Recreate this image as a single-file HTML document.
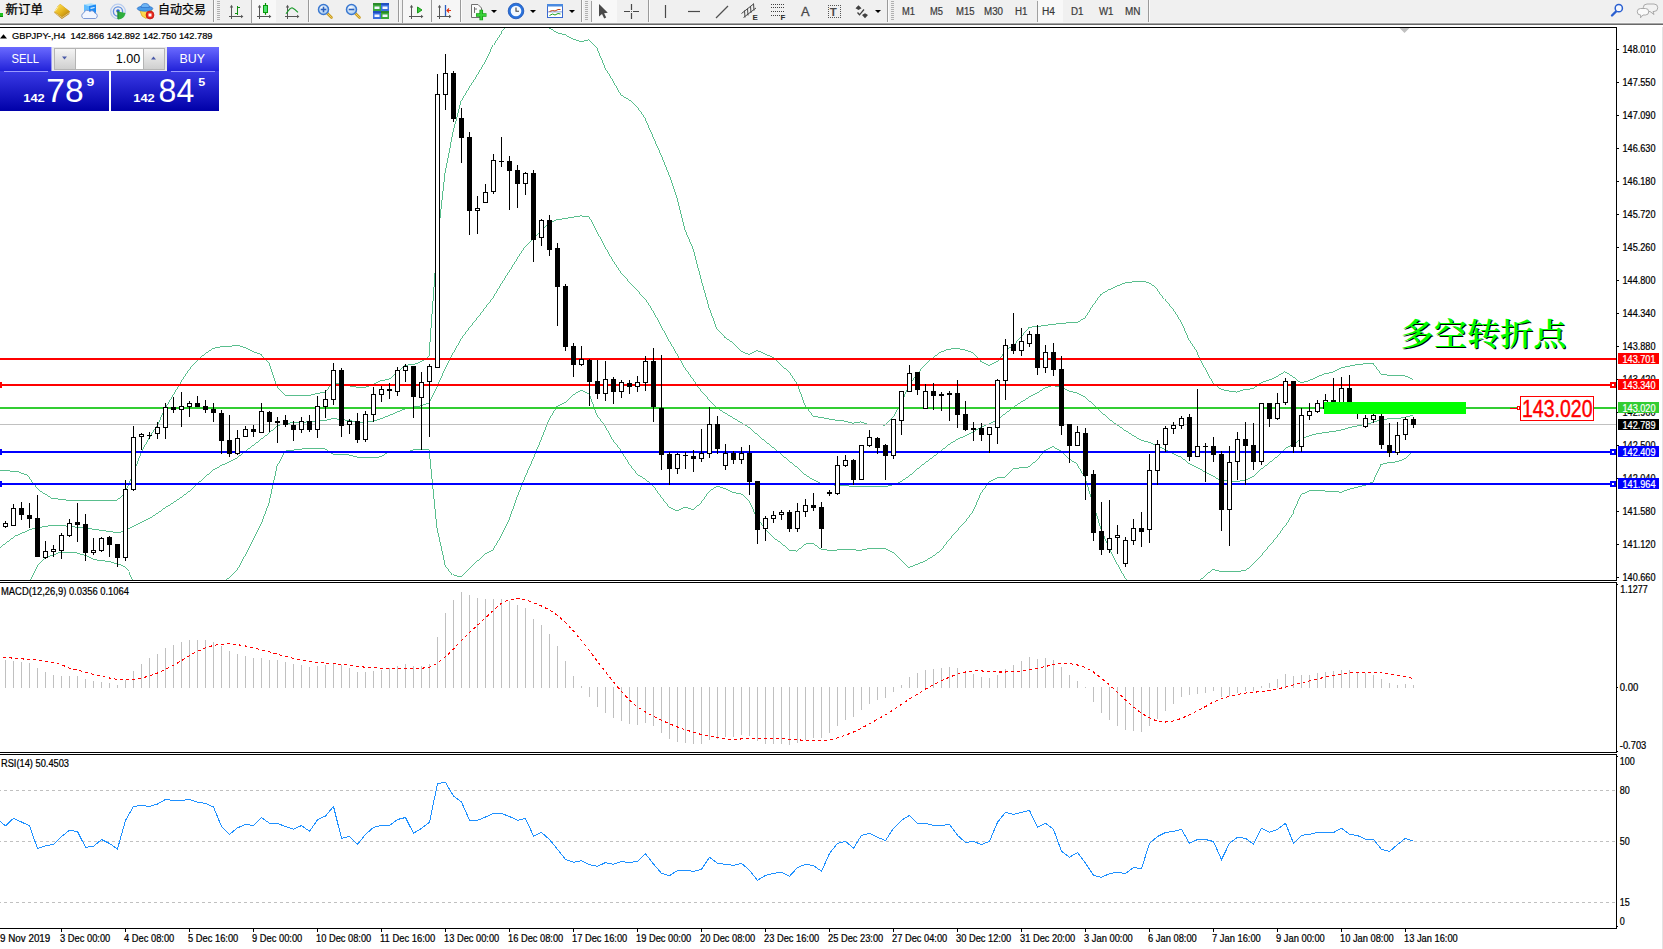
<!DOCTYPE html>
<html lang="zh"><head><meta charset="utf-8"><title>GBPJPY-,H4</title>
<style>
html,body{margin:0;padding:0;background:#fff;overflow:hidden}
svg{display:block;font-family:"Liberation Sans",sans-serif}
text{white-space:pre}
</style></head><body>
<svg width="1663" height="949" viewBox="0 0 1663 949">
<rect x="0" y="25" width="1663" height="924" fill="#fff"/>
<defs><clipPath id="cm"><rect x="0" y="28" width="1616" height="552"/></clipPath><clipPath id="c2"><rect x="0" y="583" width="1616" height="169"/></clipPath><clipPath id="c3"><rect x="0" y="755" width="1616" height="173"/></clipPath></defs>
<g clip-path="url(#cm)">
<polyline points="0.0,470.3 17.7,471.6 27.8,475.4 32.9,483.0 40.5,491.8 50.6,498.1 65.8,500.0 88.6,500.7 116.4,500.7 124.0,494.4 131.6,478.0 141.7,451.3 152.0,433.0 157.0,426.1 165.0,408.9 173.0,395.2 181.0,382.0 189.0,369.7 197.0,360.7 205.0,353.7 213.0,348.5 221.0,346.9 229.0,346.4 237.0,345.3 245.0,347.5 253.0,351.7 261.0,354.4 269.0,363.3 277.0,386.4 285.0,395.3 293.0,395.5 301.0,395.3 309.0,395.5 317.0,393.6 325.0,392.2 333.0,382.8 341.0,384.2 349.0,385.9 357.0,387.1 365.0,387.5 373.0,384.6 381.0,380.7 389.0,379.3 397.0,372.4 405.0,365.3 413.0,364.6 421.0,361.8 429.0,356.4 437.0,244.8 445.0,173.4 453.0,132.0 461.0,101.4 469.0,88.0 477.0,75.4 485.0,62.1 493.0,45.2 501.0,32.5 509.0,23.6 517.0,20.6 525.0,16.9 533.0,19.3 541.0,21.8 549.0,27.7 557.0,32.8 565.0,34.7 573.0,38.9 581.0,41.7 589.0,39.7 597.0,48.1 605.0,67.9 613.0,81.0 621.0,95.1 629.0,99.6 637.0,106.6 645.0,118.4 653.0,136.7 661.0,155.0 669.0,174.6 677.0,197.7 685.0,229.8 693.0,248.7 701.0,279.0 709.0,307.6 717.0,329.3 725.0,337.5 733.0,343.0 741.0,351.3 749.0,354.4 757.0,350.4 765.0,353.9 773.0,357.5 781.0,365.0 789.0,372.0 797.0,383.7 805.0,405.2 813.0,416.2 821.0,417.5 829.0,419.0 837.0,420.4 845.0,421.1 853.0,423.2 861.0,421.9 869.0,424.8 877.0,424.7 885.0,425.1 893.0,417.2 901.0,403.7 909.0,385.0 917.0,374.1 925.0,364.7 933.0,357.7 941.0,351.9 949.0,349.1 957.0,348.6 965.0,349.9 973.0,352.6 981.0,361.5 989.0,365.7 997.0,361.6 1005.0,350.5 1013.0,346.0 1021.0,336.9 1029.0,327.4 1037.0,326.4 1045.0,325.5 1053.0,324.3 1061.0,323.6 1069.0,322.7 1077.0,322.5 1085.0,318.0 1093.0,305.3 1101.0,294.4 1109.0,289.7 1117.0,286.2 1125.0,282.9 1133.0,281.8 1141.0,281.0 1149.0,282.7 1157.0,288.5 1165.0,299.3 1173.0,309.4 1181.0,321.6 1189.0,340.0 1197.0,351.5 1205.0,368.3 1213.0,383.2 1221.0,389.3 1229.0,391.1 1237.0,392.1 1245.0,389.3 1253.0,388.8 1261.0,382.7 1269.0,380.2 1277.0,376.5 1285.0,371.7 1293.0,376.8 1301.0,383.0 1309.0,380.7 1317.0,377.0 1325.0,373.8 1333.0,372.2 1341.0,367.9 1349.0,366.1 1357.0,364.6 1365.0,363.8 1373.0,363.3 1381.0,374.2 1389.0,375.3 1397.0,375.4 1405.0,375.9 1413.0,379.3" fill="none" stroke="#2fae70" stroke-width="0.8" shape-rendering="crispEdges" />
<polyline points="0.0,547.5 15.2,536.1 32.9,528.5 50.6,525.5 65.8,526.0 88.6,528.5 106.3,531.0 118.9,532.8 129.0,528.5 141.7,522.2 152.0,517.0 157.0,513.5 165.0,507.8 173.0,502.9 181.0,497.4 189.0,491.6 197.0,484.1 205.0,477.1 213.0,470.2 221.0,465.6 229.0,462.1 237.0,457.8 245.0,451.6 253.0,445.6 261.0,439.3 269.0,433.1 277.0,426.4 285.0,423.2 293.0,422.9 301.0,422.2 309.0,421.9 317.0,420.9 325.0,420.5 333.0,418.5 341.0,419.5 349.0,420.4 357.0,422.1 365.0,422.2 373.0,421.3 381.0,418.7 389.0,415.6 397.0,412.1 405.0,409.0 413.0,407.2 421.0,405.8 429.0,403.0 437.0,386.6 445.0,368.9 453.0,353.4 461.0,339.2 469.0,328.3 477.0,318.4 485.0,308.1 493.0,297.6 501.0,284.3 509.0,271.8 517.0,259.0 525.0,246.9 533.0,239.2 541.0,230.8 549.0,223.8 557.0,219.6 565.0,218.7 573.0,217.1 581.0,215.9 589.0,216.7 597.0,231.7 605.0,247.0 613.0,260.6 621.0,272.9 629.0,281.6 637.0,290.4 645.0,298.8 653.0,311.1 661.0,325.9 669.0,340.8 677.0,354.2 685.0,368.4 693.0,379.3 701.0,390.9 709.0,399.6 717.0,407.8 725.0,413.1 733.0,417.8 741.0,422.5 749.0,427.5 757.0,434.3 765.0,441.2 773.0,447.4 781.0,453.9 789.0,461.0 797.0,467.4 805.0,474.6 813.0,479.7 821.0,483.4 829.0,484.6 837.0,485.2 845.0,485.4 853.0,486.5 861.0,486.1 869.0,486.8 877.0,486.7 885.0,486.9 893.0,484.8 901.0,481.7 909.0,476.2 917.0,469.2 925.0,462.9 933.0,456.9 941.0,451.1 949.0,444.4 957.0,439.6 965.0,435.9 973.0,432.0 981.0,427.3 989.0,423.9 997.0,419.7 1005.0,413.9 1013.0,407.5 1021.0,402.3 1029.0,397.1 1037.0,393.1 1045.0,387.9 1053.0,385.5 1061.0,387.2 1069.0,390.9 1077.0,393.0 1085.0,397.2 1093.0,404.1 1101.0,411.8 1109.0,418.9 1117.0,424.9 1125.0,430.4 1133.0,435.4 1141.0,440.2 1149.0,442.4 1157.0,445.6 1165.0,449.7 1173.0,453.4 1181.0,457.2 1189.0,463.4 1197.0,467.3 1205.0,472.0 1213.0,476.2 1221.0,480.4 1229.0,481.2 1237.0,481.6 1245.0,480.1 1253.0,476.6 1261.0,469.2 1269.0,463.2 1277.0,456.6 1285.0,448.7 1293.0,444.6 1301.0,438.8 1309.0,435.9 1317.0,433.8 1325.0,432.4 1333.0,431.6 1341.0,430.1 1349.0,427.7 1357.0,425.9 1365.0,424.6 1373.0,422.6 1381.0,419.3 1389.0,418.9 1397.0,418.6 1405.0,417.3 1413.0,415.4" fill="none" stroke="#2fae70" stroke-width="0.8" shape-rendering="crispEdges" />
<polyline points="26.0,590.0 30.4,580.0 38.0,565.2 45.5,557.1 58.2,553.0 73.4,552.0 83.5,555.0 93.6,559.6 108.8,561.4 121.5,565.2 129.0,571.5 132.8,580.0 141.0,600.0 152.0,601.0 157.0,601.0 165.0,606.6 173.0,610.5 181.0,612.8 189.0,613.5 197.0,607.5 205.0,600.4 213.0,592.0 221.0,584.2 229.0,577.8 237.0,570.2 245.0,555.6 253.0,539.6 261.0,524.2 269.0,503.0 277.0,466.4 285.0,451.1 293.0,450.2 301.0,449.1 309.0,448.4 317.0,448.2 325.0,448.8 333.0,454.2 341.0,454.8 349.0,454.9 357.0,457.0 365.0,457.0 373.0,458.0 381.0,456.7 389.0,451.8 397.0,451.9 405.0,452.7 413.0,449.9 421.0,449.8 429.0,449.6 437.0,528.3 445.0,564.5 453.0,574.8 461.0,577.1 469.0,568.6 477.0,561.4 485.0,554.0 493.0,549.9 501.0,536.1 509.0,520.0 517.0,497.4 525.0,477.0 533.0,459.2 541.0,439.8 549.0,419.8 557.0,406.4 565.0,402.6 573.0,395.2 581.0,390.1 589.0,393.7 597.0,415.3 605.0,426.1 613.0,440.3 621.0,450.6 629.0,463.7 637.0,474.1 645.0,479.2 653.0,485.6 661.0,496.7 669.0,506.9 677.0,510.8 685.0,506.9 693.0,509.9 701.0,502.9 709.0,491.7 717.0,486.2 725.0,488.6 733.0,492.6 741.0,493.7 749.0,500.6 757.0,518.2 765.0,528.6 773.0,537.3 781.0,542.8 789.0,550.0 797.0,551.2 805.0,544.1 813.0,543.2 821.0,549.3 829.0,550.3 837.0,550.0 845.0,549.8 853.0,549.8 861.0,550.3 869.0,548.7 877.0,548.7 885.0,548.6 893.0,552.4 901.0,559.7 909.0,567.5 917.0,564.4 925.0,561.1 933.0,556.2 941.0,550.4 949.0,539.8 957.0,530.7 965.0,521.9 973.0,511.4 981.0,493.1 989.0,482.2 997.0,477.8 1005.0,477.4 1013.0,469.0 1021.0,467.7 1029.0,466.9 1037.0,459.9 1045.0,450.4 1053.0,446.7 1061.0,450.9 1069.0,459.1 1077.0,463.5 1085.0,476.5 1093.0,502.9 1101.0,529.2 1109.0,548.2 1117.0,563.7 1125.0,578.0 1133.0,588.9 1141.0,599.4 1149.0,602.0 1157.0,602.6 1165.0,600.1 1173.0,597.4 1181.0,592.9 1189.0,586.8 1197.0,583.1 1205.0,575.7 1213.0,569.3 1221.0,571.6 1229.0,571.4 1237.0,571.1 1245.0,570.9 1253.0,564.3 1261.0,555.7 1269.0,546.3 1277.0,536.8 1285.0,525.7 1293.0,512.5 1301.0,494.6 1309.0,491.0 1317.0,490.6 1325.0,491.0 1333.0,491.0 1341.0,492.3 1349.0,489.3 1357.0,487.3 1365.0,485.3 1373.0,481.8 1381.0,464.4 1389.0,462.4 1397.0,461.9 1405.0,458.7 1413.0,451.6" fill="none" stroke="#2fae70" stroke-width="0.8" shape-rendering="crispEdges" />
</g>
<rect x="0" y="424" width="1616" height="1" fill="#c0c0c0" shape-rendering="crispEdges"/>
<rect x="0" y="407" width="1616" height="2" fill="#32cd32" shape-rendering="crispEdges"/>
<rect x="0" y="358" width="1616" height="2" fill="#ff0000" shape-rendering="crispEdges"/>
<rect x="0" y="384" width="1616" height="2" fill="#ff0000" shape-rendering="crispEdges"/>
<rect x="0" y="451" width="1616" height="2" fill="#0000ff" shape-rendering="crispEdges"/>
<rect x="0" y="483" width="1616" height="2" fill="#0000ff" shape-rendering="crispEdges"/>
<rect x="0" y="382" width="2" height="6" fill="#ff0000" shape-rendering="crispEdges"/>
<rect x="1610" y="382" width="6" height="6" fill="#ff0000" shape-rendering="crispEdges"/>
<rect x="1612" y="384" width="2" height="2" fill="#fff" shape-rendering="crispEdges"/>
<rect x="0" y="449" width="2" height="6" fill="#0000ff" shape-rendering="crispEdges"/>
<rect x="1610" y="449" width="6" height="6" fill="#0000ff" shape-rendering="crispEdges"/>
<rect x="1612" y="451" width="2" height="2" fill="#fff" shape-rendering="crispEdges"/>
<rect x="0" y="481" width="2" height="6" fill="#0000ff" shape-rendering="crispEdges"/>
<rect x="1610" y="481" width="6" height="6" fill="#0000ff" shape-rendering="crispEdges"/>
<rect x="1612" y="483" width="2" height="2" fill="#fff" shape-rendering="crispEdges"/>
<g shape-rendering="crispEdges">
<rect x="5" y="521" width="1" height="7" fill="#000"/>
<rect x="3" y="523" width="5" height="4" fill="#000"/>
<rect x="4" y="524" width="3" height="2" fill="#fff"/>
<rect x="13" y="504" width="1" height="22" fill="#000"/>
<rect x="11" y="508" width="5" height="18" fill="#000"/>
<rect x="12" y="509" width="3" height="16" fill="#fff"/>
<rect x="21" y="502" width="1" height="18" fill="#000"/>
<rect x="19" y="508" width="5" height="7" fill="#000"/>
<rect x="29" y="503" width="1" height="25" fill="#000"/>
<rect x="27" y="515" width="5" height="4" fill="#000"/>
<rect x="37" y="495" width="1" height="62" fill="#000"/>
<rect x="35" y="518" width="5" height="39" fill="#000"/>
<rect x="45" y="541" width="1" height="18" fill="#000"/>
<rect x="43" y="551" width="5" height="7" fill="#000"/>
<rect x="44" y="552" width="3" height="5" fill="#fff"/>
<rect x="53" y="545" width="1" height="12" fill="#000"/>
<rect x="51" y="549" width="5" height="3" fill="#000"/>
<rect x="52" y="550" width="3" height="1" fill="#fff"/>
<rect x="61" y="533" width="1" height="26" fill="#000"/>
<rect x="59" y="535" width="5" height="16" fill="#000"/>
<rect x="60" y="536" width="3" height="14" fill="#fff"/>
<rect x="69" y="519" width="1" height="18" fill="#000"/>
<rect x="67" y="523" width="5" height="13" fill="#000"/>
<rect x="68" y="524" width="3" height="11" fill="#fff"/>
<rect x="77" y="503" width="1" height="39" fill="#000"/>
<rect x="75" y="522" width="5" height="3" fill="#000"/>
<rect x="85" y="514" width="1" height="47" fill="#000"/>
<rect x="83" y="524" width="5" height="29" fill="#000"/>
<rect x="93" y="538" width="1" height="17" fill="#000"/>
<rect x="91" y="550" width="5" height="3" fill="#000"/>
<rect x="92" y="551" width="3" height="1" fill="#fff"/>
<rect x="101" y="537" width="1" height="15" fill="#000"/>
<rect x="99" y="538" width="5" height="13" fill="#000"/>
<rect x="100" y="539" width="3" height="11" fill="#fff"/>
<rect x="109" y="536" width="1" height="21" fill="#000"/>
<rect x="107" y="537" width="5" height="8" fill="#000"/>
<rect x="117" y="544" width="1" height="23" fill="#000"/>
<rect x="115" y="544" width="5" height="14" fill="#000"/>
<rect x="125" y="480" width="1" height="81" fill="#000"/>
<rect x="123" y="489" width="5" height="69" fill="#000"/>
<rect x="124" y="490" width="3" height="67" fill="#fff"/>
<rect x="133" y="426" width="1" height="65" fill="#000"/>
<rect x="131" y="437" width="5" height="53" fill="#000"/>
<rect x="132" y="438" width="3" height="51" fill="#fff"/>
<rect x="141" y="433" width="1" height="17" fill="#000"/>
<rect x="139" y="434" width="5" height="3" fill="#000"/>
<rect x="140" y="435" width="3" height="1" fill="#fff"/>
<rect x="149" y="432" width="1" height="7" fill="#000"/>
<rect x="147" y="435" width="5" height="1" fill="#000"/>
<rect x="157" y="422" width="1" height="17" fill="#000"/>
<rect x="155" y="427" width="5" height="7" fill="#000"/>
<rect x="156" y="428" width="3" height="5" fill="#fff"/>
<rect x="165" y="403" width="1" height="36" fill="#000"/>
<rect x="163" y="407" width="5" height="21" fill="#000"/>
<rect x="164" y="408" width="3" height="19" fill="#fff"/>
<rect x="173" y="397" width="1" height="16" fill="#000"/>
<rect x="171" y="407" width="5" height="3" fill="#000"/>
<rect x="181" y="392" width="1" height="35" fill="#000"/>
<rect x="179" y="406" width="5" height="4" fill="#000"/>
<rect x="180" y="407" width="3" height="2" fill="#fff"/>
<rect x="189" y="401" width="1" height="16" fill="#000"/>
<rect x="187" y="403" width="5" height="4" fill="#000"/>
<rect x="188" y="404" width="3" height="2" fill="#fff"/>
<rect x="197" y="396" width="1" height="11" fill="#000"/>
<rect x="195" y="403" width="5" height="4" fill="#000"/>
<rect x="205" y="400" width="1" height="13" fill="#000"/>
<rect x="203" y="406" width="5" height="4" fill="#000"/>
<rect x="213" y="403" width="1" height="19" fill="#000"/>
<rect x="211" y="409" width="5" height="4" fill="#000"/>
<rect x="221" y="410" width="1" height="44" fill="#000"/>
<rect x="219" y="413" width="5" height="28" fill="#000"/>
<rect x="229" y="415" width="1" height="42" fill="#000"/>
<rect x="227" y="440" width="5" height="14" fill="#000"/>
<rect x="237" y="430" width="1" height="25" fill="#000"/>
<rect x="235" y="438" width="5" height="16" fill="#000"/>
<rect x="236" y="439" width="3" height="14" fill="#fff"/>
<rect x="245" y="426" width="1" height="11" fill="#000"/>
<rect x="243" y="429" width="5" height="8" fill="#000"/>
<rect x="244" y="430" width="3" height="6" fill="#fff"/>
<rect x="253" y="425" width="1" height="12" fill="#000"/>
<rect x="251" y="429" width="5" height="3" fill="#000"/>
<rect x="261" y="403" width="1" height="30" fill="#000"/>
<rect x="259" y="411" width="5" height="22" fill="#000"/>
<rect x="260" y="412" width="3" height="20" fill="#fff"/>
<rect x="269" y="411" width="1" height="21" fill="#000"/>
<rect x="267" y="412" width="5" height="10" fill="#000"/>
<rect x="277" y="417" width="1" height="26" fill="#000"/>
<rect x="275" y="421" width="5" height="2" fill="#000"/>
<rect x="285" y="415" width="1" height="12" fill="#000"/>
<rect x="283" y="420" width="5" height="5" fill="#000"/>
<rect x="293" y="421" width="1" height="20" fill="#000"/>
<rect x="291" y="425" width="5" height="5" fill="#000"/>
<rect x="301" y="417" width="1" height="16" fill="#000"/>
<rect x="299" y="421" width="5" height="9" fill="#000"/>
<rect x="300" y="422" width="3" height="7" fill="#fff"/>
<rect x="309" y="415" width="1" height="17" fill="#000"/>
<rect x="307" y="421" width="5" height="9" fill="#000"/>
<rect x="317" y="396" width="1" height="42" fill="#000"/>
<rect x="315" y="406" width="5" height="24" fill="#000"/>
<rect x="316" y="407" width="3" height="22" fill="#fff"/>
<rect x="325" y="390" width="1" height="28" fill="#000"/>
<rect x="323" y="399" width="5" height="8" fill="#000"/>
<rect x="324" y="400" width="3" height="6" fill="#fff"/>
<rect x="333" y="363" width="1" height="42" fill="#000"/>
<rect x="331" y="370" width="5" height="30" fill="#000"/>
<rect x="332" y="371" width="3" height="28" fill="#fff"/>
<rect x="341" y="368" width="1" height="69" fill="#000"/>
<rect x="339" y="370" width="5" height="56" fill="#000"/>
<rect x="349" y="419" width="1" height="15" fill="#000"/>
<rect x="347" y="421" width="5" height="4" fill="#000"/>
<rect x="348" y="422" width="3" height="2" fill="#fff"/>
<rect x="357" y="413" width="1" height="30" fill="#000"/>
<rect x="355" y="421" width="5" height="19" fill="#000"/>
<rect x="365" y="411" width="1" height="31" fill="#000"/>
<rect x="363" y="414" width="5" height="26" fill="#000"/>
<rect x="364" y="415" width="3" height="24" fill="#fff"/>
<rect x="373" y="387" width="1" height="35" fill="#000"/>
<rect x="371" y="394" width="5" height="21" fill="#000"/>
<rect x="372" y="395" width="3" height="19" fill="#fff"/>
<rect x="381" y="386" width="1" height="16" fill="#000"/>
<rect x="379" y="389" width="5" height="6" fill="#000"/>
<rect x="380" y="390" width="3" height="4" fill="#fff"/>
<rect x="389" y="383" width="1" height="16" fill="#000"/>
<rect x="387" y="389" width="5" height="2" fill="#000"/>
<rect x="397" y="367" width="1" height="29" fill="#000"/>
<rect x="395" y="370" width="5" height="22" fill="#000"/>
<rect x="396" y="371" width="3" height="20" fill="#fff"/>
<rect x="405" y="364" width="1" height="18" fill="#000"/>
<rect x="403" y="366" width="5" height="5" fill="#000"/>
<rect x="404" y="367" width="3" height="3" fill="#fff"/>
<rect x="413" y="366" width="1" height="52" fill="#000"/>
<rect x="411" y="366" width="5" height="31" fill="#000"/>
<rect x="421" y="372" width="1" height="78" fill="#000"/>
<rect x="419" y="382" width="5" height="16" fill="#000"/>
<rect x="420" y="383" width="3" height="14" fill="#fff"/>
<rect x="429" y="364" width="1" height="73" fill="#000"/>
<rect x="427" y="366" width="5" height="16" fill="#000"/>
<rect x="428" y="367" width="3" height="14" fill="#fff"/>
<rect x="437" y="74" width="1" height="294" fill="#000"/>
<rect x="435" y="94" width="5" height="274" fill="#000"/>
<rect x="436" y="95" width="3" height="272" fill="#fff"/>
<rect x="445" y="54" width="1" height="56" fill="#000"/>
<rect x="443" y="73" width="5" height="22" fill="#000"/>
<rect x="444" y="74" width="3" height="20" fill="#fff"/>
<rect x="453" y="71" width="1" height="51" fill="#000"/>
<rect x="451" y="73" width="5" height="46" fill="#000"/>
<rect x="461" y="108" width="1" height="55" fill="#000"/>
<rect x="459" y="118" width="5" height="20" fill="#000"/>
<rect x="469" y="132" width="1" height="103" fill="#000"/>
<rect x="467" y="137" width="5" height="74" fill="#000"/>
<rect x="477" y="196" width="1" height="38" fill="#000"/>
<rect x="475" y="208" width="5" height="3" fill="#000"/>
<rect x="476" y="209" width="3" height="1" fill="#fff"/>
<rect x="485" y="184" width="1" height="19" fill="#000"/>
<rect x="483" y="192" width="5" height="11" fill="#000"/>
<rect x="484" y="193" width="3" height="9" fill="#fff"/>
<rect x="493" y="154" width="1" height="40" fill="#000"/>
<rect x="491" y="160" width="5" height="32" fill="#000"/>
<rect x="492" y="161" width="3" height="30" fill="#fff"/>
<rect x="501" y="137" width="1" height="30" fill="#000"/>
<rect x="499" y="161" width="5" height="1" fill="#000"/>
<rect x="509" y="156" width="1" height="54" fill="#000"/>
<rect x="507" y="161" width="5" height="10" fill="#000"/>
<rect x="517" y="165" width="1" height="43" fill="#000"/>
<rect x="515" y="170" width="5" height="14" fill="#000"/>
<rect x="525" y="172" width="1" height="23" fill="#000"/>
<rect x="523" y="173" width="5" height="11" fill="#000"/>
<rect x="524" y="174" width="3" height="9" fill="#fff"/>
<rect x="533" y="170" width="1" height="92" fill="#000"/>
<rect x="531" y="173" width="5" height="67" fill="#000"/>
<rect x="541" y="219" width="1" height="27" fill="#000"/>
<rect x="539" y="220" width="5" height="18" fill="#000"/>
<rect x="540" y="221" width="3" height="16" fill="#fff"/>
<rect x="549" y="215" width="1" height="41" fill="#000"/>
<rect x="547" y="220" width="5" height="30" fill="#000"/>
<rect x="557" y="243" width="1" height="83" fill="#000"/>
<rect x="555" y="248" width="5" height="39" fill="#000"/>
<rect x="565" y="284" width="1" height="67" fill="#000"/>
<rect x="563" y="286" width="5" height="61" fill="#000"/>
<rect x="573" y="343" width="1" height="34" fill="#000"/>
<rect x="571" y="346" width="5" height="19" fill="#000"/>
<rect x="581" y="346" width="1" height="20" fill="#000"/>
<rect x="579" y="359" width="5" height="6" fill="#000"/>
<rect x="580" y="360" width="3" height="4" fill="#fff"/>
<rect x="589" y="359" width="1" height="47" fill="#000"/>
<rect x="587" y="360" width="5" height="22" fill="#000"/>
<rect x="597" y="360" width="1" height="39" fill="#000"/>
<rect x="595" y="381" width="5" height="13" fill="#000"/>
<rect x="605" y="361" width="1" height="40" fill="#000"/>
<rect x="603" y="379" width="5" height="15" fill="#000"/>
<rect x="604" y="380" width="3" height="13" fill="#fff"/>
<rect x="613" y="377" width="1" height="27" fill="#000"/>
<rect x="611" y="379" width="5" height="13" fill="#000"/>
<rect x="621" y="380" width="1" height="18" fill="#000"/>
<rect x="619" y="382" width="5" height="10" fill="#000"/>
<rect x="620" y="383" width="3" height="8" fill="#fff"/>
<rect x="629" y="380" width="1" height="14" fill="#000"/>
<rect x="627" y="383" width="5" height="4" fill="#000"/>
<rect x="637" y="376" width="1" height="16" fill="#000"/>
<rect x="635" y="382" width="5" height="5" fill="#000"/>
<rect x="636" y="383" width="3" height="3" fill="#fff"/>
<rect x="645" y="356" width="1" height="35" fill="#000"/>
<rect x="643" y="361" width="5" height="22" fill="#000"/>
<rect x="644" y="362" width="3" height="20" fill="#fff"/>
<rect x="653" y="348" width="1" height="74" fill="#000"/>
<rect x="651" y="361" width="5" height="46" fill="#000"/>
<rect x="661" y="355" width="1" height="115" fill="#000"/>
<rect x="659" y="408" width="5" height="47" fill="#000"/>
<rect x="669" y="452" width="1" height="33" fill="#000"/>
<rect x="667" y="454" width="5" height="15" fill="#000"/>
<rect x="677" y="453" width="1" height="21" fill="#000"/>
<rect x="675" y="454" width="5" height="15" fill="#000"/>
<rect x="676" y="455" width="3" height="13" fill="#fff"/>
<rect x="685" y="452" width="1" height="17" fill="#000"/>
<rect x="683" y="455" width="5" height="1" fill="#000"/>
<rect x="693" y="450" width="1" height="22" fill="#000"/>
<rect x="691" y="456" width="5" height="3" fill="#000"/>
<rect x="701" y="429" width="1" height="33" fill="#000"/>
<rect x="699" y="453" width="5" height="6" fill="#000"/>
<rect x="700" y="454" width="3" height="4" fill="#fff"/>
<rect x="709" y="407" width="1" height="51" fill="#000"/>
<rect x="707" y="424" width="5" height="30" fill="#000"/>
<rect x="708" y="425" width="3" height="28" fill="#fff"/>
<rect x="717" y="416" width="1" height="38" fill="#000"/>
<rect x="715" y="424" width="5" height="25" fill="#000"/>
<rect x="725" y="444" width="1" height="26" fill="#000"/>
<rect x="723" y="453" width="5" height="13" fill="#000"/>
<rect x="724" y="454" width="3" height="11" fill="#fff"/>
<rect x="733" y="451" width="1" height="13" fill="#000"/>
<rect x="731" y="453" width="5" height="7" fill="#000"/>
<rect x="741" y="447" width="1" height="17" fill="#000"/>
<rect x="739" y="453" width="5" height="7" fill="#000"/>
<rect x="740" y="454" width="3" height="5" fill="#fff"/>
<rect x="749" y="445" width="1" height="50" fill="#000"/>
<rect x="747" y="453" width="5" height="29" fill="#000"/>
<rect x="757" y="481" width="1" height="63" fill="#000"/>
<rect x="755" y="481" width="5" height="49" fill="#000"/>
<rect x="765" y="516" width="1" height="25" fill="#000"/>
<rect x="763" y="518" width="5" height="11" fill="#000"/>
<rect x="764" y="519" width="3" height="9" fill="#fff"/>
<rect x="773" y="511" width="1" height="12" fill="#000"/>
<rect x="771" y="515" width="5" height="4" fill="#000"/>
<rect x="772" y="516" width="3" height="2" fill="#fff"/>
<rect x="781" y="510" width="1" height="10" fill="#000"/>
<rect x="779" y="512" width="5" height="3" fill="#000"/>
<rect x="780" y="513" width="3" height="1" fill="#fff"/>
<rect x="789" y="510" width="1" height="22" fill="#000"/>
<rect x="787" y="512" width="5" height="17" fill="#000"/>
<rect x="797" y="503" width="1" height="29" fill="#000"/>
<rect x="795" y="511" width="5" height="18" fill="#000"/>
<rect x="796" y="512" width="3" height="16" fill="#fff"/>
<rect x="805" y="499" width="1" height="18" fill="#000"/>
<rect x="803" y="505" width="5" height="7" fill="#000"/>
<rect x="804" y="506" width="3" height="5" fill="#fff"/>
<rect x="813" y="493" width="1" height="18" fill="#000"/>
<rect x="811" y="505" width="5" height="3" fill="#000"/>
<rect x="821" y="502" width="1" height="46" fill="#000"/>
<rect x="819" y="507" width="5" height="22" fill="#000"/>
<rect x="829" y="490" width="1" height="6" fill="#000"/>
<rect x="827" y="492" width="5" height="2" fill="#000"/>
<rect x="837" y="456" width="1" height="39" fill="#000"/>
<rect x="835" y="465" width="5" height="29" fill="#000"/>
<rect x="836" y="466" width="3" height="27" fill="#fff"/>
<rect x="845" y="455" width="1" height="12" fill="#000"/>
<rect x="843" y="460" width="5" height="6" fill="#000"/>
<rect x="844" y="461" width="3" height="4" fill="#fff"/>
<rect x="853" y="459" width="1" height="26" fill="#000"/>
<rect x="851" y="460" width="5" height="20" fill="#000"/>
<rect x="861" y="445" width="1" height="35" fill="#000"/>
<rect x="859" y="445" width="5" height="35" fill="#000"/>
<rect x="860" y="446" width="3" height="33" fill="#fff"/>
<rect x="869" y="430" width="1" height="17" fill="#000"/>
<rect x="867" y="437" width="5" height="9" fill="#000"/>
<rect x="868" y="438" width="3" height="7" fill="#fff"/>
<rect x="877" y="437" width="1" height="17" fill="#000"/>
<rect x="875" y="438" width="5" height="10" fill="#000"/>
<rect x="885" y="444" width="1" height="36" fill="#000"/>
<rect x="883" y="445" width="5" height="11" fill="#000"/>
<rect x="893" y="419" width="1" height="40" fill="#000"/>
<rect x="891" y="419" width="5" height="37" fill="#000"/>
<rect x="892" y="420" width="3" height="35" fill="#fff"/>
<rect x="901" y="391" width="1" height="44" fill="#000"/>
<rect x="899" y="391" width="5" height="30" fill="#000"/>
<rect x="900" y="392" width="3" height="28" fill="#fff"/>
<rect x="909" y="365" width="1" height="27" fill="#000"/>
<rect x="907" y="373" width="5" height="19" fill="#000"/>
<rect x="908" y="374" width="3" height="17" fill="#fff"/>
<rect x="917" y="372" width="1" height="23" fill="#000"/>
<rect x="915" y="372" width="5" height="18" fill="#000"/>
<rect x="925" y="384" width="1" height="25" fill="#000"/>
<rect x="923" y="391" width="5" height="18" fill="#000"/>
<rect x="924" y="392" width="3" height="16" fill="#fff"/>
<rect x="933" y="383" width="1" height="27" fill="#000"/>
<rect x="931" y="391" width="5" height="5" fill="#000"/>
<rect x="941" y="392" width="1" height="19" fill="#000"/>
<rect x="939" y="394" width="5" height="2" fill="#000"/>
<rect x="949" y="391" width="1" height="30" fill="#000"/>
<rect x="947" y="393" width="5" height="2" fill="#000"/>
<rect x="957" y="380" width="1" height="48" fill="#000"/>
<rect x="955" y="393" width="5" height="22" fill="#000"/>
<rect x="965" y="401" width="1" height="30" fill="#000"/>
<rect x="963" y="414" width="5" height="16" fill="#000"/>
<rect x="973" y="422" width="1" height="19" fill="#000"/>
<rect x="971" y="428" width="5" height="2" fill="#000"/>
<rect x="981" y="423" width="1" height="18" fill="#000"/>
<rect x="979" y="428" width="5" height="7" fill="#000"/>
<rect x="989" y="427" width="1" height="26" fill="#000"/>
<rect x="987" y="427" width="5" height="8" fill="#000"/>
<rect x="988" y="428" width="3" height="6" fill="#fff"/>
<rect x="997" y="379" width="1" height="65" fill="#000"/>
<rect x="995" y="380" width="5" height="48" fill="#000"/>
<rect x="996" y="381" width="3" height="46" fill="#fff"/>
<rect x="1005" y="339" width="1" height="61" fill="#000"/>
<rect x="1003" y="345" width="5" height="36" fill="#000"/>
<rect x="1004" y="346" width="3" height="34" fill="#fff"/>
<rect x="1013" y="313" width="1" height="41" fill="#000"/>
<rect x="1011" y="344" width="5" height="7" fill="#000"/>
<rect x="1021" y="328" width="1" height="28" fill="#000"/>
<rect x="1019" y="341" width="5" height="10" fill="#000"/>
<rect x="1020" y="342" width="3" height="8" fill="#fff"/>
<rect x="1029" y="331" width="1" height="16" fill="#000"/>
<rect x="1027" y="334" width="5" height="10" fill="#000"/>
<rect x="1028" y="335" width="3" height="8" fill="#fff"/>
<rect x="1037" y="325" width="1" height="50" fill="#000"/>
<rect x="1035" y="334" width="5" height="34" fill="#000"/>
<rect x="1045" y="345" width="1" height="28" fill="#000"/>
<rect x="1043" y="352" width="5" height="16" fill="#000"/>
<rect x="1044" y="353" width="3" height="14" fill="#fff"/>
<rect x="1053" y="343" width="1" height="33" fill="#000"/>
<rect x="1051" y="352" width="5" height="18" fill="#000"/>
<rect x="1061" y="356" width="1" height="79" fill="#000"/>
<rect x="1059" y="369" width="5" height="57" fill="#000"/>
<rect x="1069" y="424" width="1" height="39" fill="#000"/>
<rect x="1067" y="424" width="5" height="22" fill="#000"/>
<rect x="1077" y="426" width="1" height="20" fill="#000"/>
<rect x="1075" y="432" width="5" height="14" fill="#000"/>
<rect x="1076" y="433" width="3" height="12" fill="#fff"/>
<rect x="1085" y="428" width="1" height="72" fill="#000"/>
<rect x="1083" y="433" width="5" height="43" fill="#000"/>
<rect x="1093" y="470" width="1" height="71" fill="#000"/>
<rect x="1091" y="474" width="5" height="59" fill="#000"/>
<rect x="1101" y="502" width="1" height="53" fill="#000"/>
<rect x="1099" y="531" width="5" height="19" fill="#000"/>
<rect x="1109" y="500" width="1" height="53" fill="#000"/>
<rect x="1107" y="538" width="5" height="12" fill="#000"/>
<rect x="1108" y="539" width="3" height="10" fill="#fff"/>
<rect x="1117" y="525" width="1" height="29" fill="#000"/>
<rect x="1115" y="535" width="5" height="3" fill="#000"/>
<rect x="1116" y="536" width="3" height="1" fill="#fff"/>
<rect x="1125" y="537" width="1" height="30" fill="#000"/>
<rect x="1123" y="540" width="5" height="24" fill="#000"/>
<rect x="1124" y="541" width="3" height="22" fill="#fff"/>
<rect x="1133" y="519" width="1" height="26" fill="#000"/>
<rect x="1131" y="528" width="5" height="13" fill="#000"/>
<rect x="1132" y="529" width="3" height="11" fill="#fff"/>
<rect x="1141" y="512" width="1" height="35" fill="#000"/>
<rect x="1139" y="528" width="5" height="4" fill="#000"/>
<rect x="1149" y="454" width="1" height="89" fill="#000"/>
<rect x="1147" y="470" width="5" height="60" fill="#000"/>
<rect x="1148" y="471" width="3" height="58" fill="#fff"/>
<rect x="1157" y="440" width="1" height="45" fill="#000"/>
<rect x="1155" y="444" width="5" height="27" fill="#000"/>
<rect x="1156" y="445" width="3" height="25" fill="#fff"/>
<rect x="1165" y="426" width="1" height="26" fill="#000"/>
<rect x="1163" y="428" width="5" height="17" fill="#000"/>
<rect x="1164" y="429" width="3" height="15" fill="#fff"/>
<rect x="1173" y="422" width="1" height="12" fill="#000"/>
<rect x="1171" y="425" width="5" height="4" fill="#000"/>
<rect x="1172" y="426" width="3" height="2" fill="#fff"/>
<rect x="1181" y="416" width="1" height="13" fill="#000"/>
<rect x="1179" y="418" width="5" height="8" fill="#000"/>
<rect x="1180" y="419" width="3" height="6" fill="#fff"/>
<rect x="1189" y="414" width="1" height="47" fill="#000"/>
<rect x="1187" y="417" width="5" height="40" fill="#000"/>
<rect x="1197" y="389" width="1" height="68" fill="#000"/>
<rect x="1195" y="446" width="5" height="11" fill="#000"/>
<rect x="1196" y="447" width="3" height="9" fill="#fff"/>
<rect x="1205" y="443" width="1" height="39" fill="#000"/>
<rect x="1203" y="446" width="5" height="1" fill="#000"/>
<rect x="1213" y="437" width="1" height="25" fill="#000"/>
<rect x="1211" y="446" width="5" height="9" fill="#000"/>
<rect x="1221" y="451" width="1" height="80" fill="#000"/>
<rect x="1219" y="454" width="5" height="56" fill="#000"/>
<rect x="1229" y="446" width="1" height="100" fill="#000"/>
<rect x="1227" y="462" width="5" height="48" fill="#000"/>
<rect x="1228" y="463" width="3" height="46" fill="#fff"/>
<rect x="1237" y="432" width="1" height="48" fill="#000"/>
<rect x="1235" y="439" width="5" height="23" fill="#000"/>
<rect x="1236" y="440" width="3" height="21" fill="#fff"/>
<rect x="1245" y="422" width="1" height="63" fill="#000"/>
<rect x="1243" y="439" width="5" height="7" fill="#000"/>
<rect x="1253" y="423" width="1" height="47" fill="#000"/>
<rect x="1251" y="445" width="5" height="17" fill="#000"/>
<rect x="1261" y="403" width="1" height="62" fill="#000"/>
<rect x="1259" y="403" width="5" height="59" fill="#000"/>
<rect x="1260" y="404" width="3" height="57" fill="#fff"/>
<rect x="1269" y="403" width="1" height="24" fill="#000"/>
<rect x="1267" y="403" width="5" height="16" fill="#000"/>
<rect x="1277" y="393" width="1" height="27" fill="#000"/>
<rect x="1275" y="403" width="5" height="16" fill="#000"/>
<rect x="1276" y="404" width="3" height="14" fill="#fff"/>
<rect x="1285" y="378" width="1" height="27" fill="#000"/>
<rect x="1283" y="381" width="5" height="22" fill="#000"/>
<rect x="1284" y="382" width="3" height="20" fill="#fff"/>
<rect x="1293" y="381" width="1" height="72" fill="#000"/>
<rect x="1291" y="381" width="5" height="66" fill="#000"/>
<rect x="1301" y="408" width="1" height="44" fill="#000"/>
<rect x="1299" y="415" width="5" height="32" fill="#000"/>
<rect x="1300" y="416" width="3" height="30" fill="#fff"/>
<rect x="1309" y="403" width="1" height="17" fill="#000"/>
<rect x="1307" y="411" width="5" height="5" fill="#000"/>
<rect x="1308" y="412" width="3" height="3" fill="#fff"/>
<rect x="1317" y="400" width="1" height="13" fill="#000"/>
<rect x="1315" y="403" width="5" height="9" fill="#000"/>
<rect x="1316" y="404" width="3" height="7" fill="#fff"/>
<rect x="1325" y="394" width="1" height="15" fill="#000"/>
<rect x="1323" y="400" width="5" height="9" fill="#000"/>
<rect x="1324" y="401" width="3" height="7" fill="#fff"/>
<rect x="1333" y="378" width="1" height="31" fill="#000"/>
<rect x="1331" y="400" width="5" height="9" fill="#000"/>
<rect x="1341" y="377" width="1" height="32" fill="#000"/>
<rect x="1339" y="388" width="5" height="21" fill="#000"/>
<rect x="1340" y="389" width="3" height="19" fill="#fff"/>
<rect x="1349" y="375" width="1" height="34" fill="#000"/>
<rect x="1347" y="388" width="5" height="21" fill="#000"/>
<rect x="1357" y="404" width="1" height="15" fill="#000"/>
<rect x="1355" y="404" width="5" height="7" fill="#000"/>
<rect x="1365" y="415" width="1" height="13" fill="#000"/>
<rect x="1363" y="418" width="5" height="9" fill="#000"/>
<rect x="1364" y="419" width="3" height="7" fill="#fff"/>
<rect x="1373" y="414" width="1" height="9" fill="#000"/>
<rect x="1371" y="415" width="5" height="5" fill="#000"/>
<rect x="1372" y="416" width="3" height="3" fill="#fff"/>
<rect x="1381" y="414" width="1" height="35" fill="#000"/>
<rect x="1379" y="416" width="5" height="29" fill="#000"/>
<rect x="1389" y="423" width="1" height="34" fill="#000"/>
<rect x="1387" y="445" width="5" height="8" fill="#000"/>
<rect x="1397" y="422" width="1" height="33" fill="#000"/>
<rect x="1395" y="435" width="5" height="18" fill="#000"/>
<rect x="1396" y="436" width="3" height="16" fill="#fff"/>
<rect x="1405" y="417" width="1" height="23" fill="#000"/>
<rect x="1403" y="419" width="5" height="16" fill="#000"/>
<rect x="1404" y="420" width="3" height="14" fill="#fff"/>
<rect x="1413" y="417" width="1" height="11" fill="#000"/>
<rect x="1411" y="419" width="5" height="6" fill="#000"/>
</g>
<rect x="1324" y="402" width="142" height="12" fill="#00ff00" shape-rendering="crispEdges"/>
<rect x="1510" y="408" width="8" height="1" fill="#ff0000" shape-rendering="crispEdges"/>
<rect x="1517" y="406" width="3" height="4" fill="#ff0000" shape-rendering="crispEdges"/>
<rect x="1518" y="407" width="1" height="2" fill="#fff" shape-rendering="crispEdges"/>
<rect x="1520" y="396" width="74" height="25" fill="#ff0000" shape-rendering="crispEdges"/>
<rect x="1521" y="397" width="72" height="23" fill="#fff" shape-rendering="crispEdges"/>
<text x="1522" y="417" font-size="23.5" fill="#ff0000" textLength="70.5" lengthAdjust="spacingAndGlyphs" stroke="#ff0000" stroke-width="0.45">143.020</text>
<text x="1401.5" y="345.6" font-size="31" fill="#000" textLength="166" lengthAdjust="spacingAndGlyphs" font-weight="600" font-family='"Liberation Serif", "Noto Serif CJK SC", serif' >多空转折点</text>
<text x="1400.5" y="344.6" font-size="31" fill="#00ff00" textLength="166" lengthAdjust="spacingAndGlyphs" font-weight="600" font-family='"Liberation Serif", "Noto Serif CJK SC", serif' >多空转折点</text>
<path d="M0 38.6 L3.5 34.2 L7 38.6 Z" fill="#000"/>
<text x="12" y="39" font-size="9.7" fill="#000" textLength="200.5" lengthAdjust="spacingAndGlyphs" stroke="#000" stroke-width="0.22" >GBPJPY-,H4  142.866 142.892 142.750 142.789</text>
<g shape-rendering="crispEdges" fill="#000">
<rect x="0" y="27" width="1617" height="1" fill="#000" />
<rect x="1616" y="27" width="1" height="902" fill="#000" />
<rect x="0" y="580" width="1617" height="1" fill="#000" />
<rect x="0" y="582" width="1617" height="1" fill="#000" />
<rect x="0" y="752" width="1617" height="1" fill="#000" />
<rect x="0" y="754" width="1617" height="1" fill="#000" />
<rect x="0" y="928" width="1617" height="1" fill="#000" />
<rect x="1616" y="581" width="1" height="1" fill="#fff" />
<rect x="1616" y="753" width="1" height="1" fill="#fff" />
</g>
<g shape-rendering="crispEdges">
<rect x="1617" y="49" width="2" height="1" fill="#000" />
<rect x="1617" y="82" width="2" height="1" fill="#000" />
<rect x="1617" y="115" width="2" height="1" fill="#000" />
<rect x="1617" y="148" width="2" height="1" fill="#000" />
<rect x="1617" y="181" width="2" height="1" fill="#000" />
<rect x="1617" y="214" width="2" height="1" fill="#000" />
<rect x="1617" y="247" width="2" height="1" fill="#000" />
<rect x="1617" y="280" width="2" height="1" fill="#000" />
<rect x="1617" y="313" width="2" height="1" fill="#000" />
<rect x="1617" y="346" width="2" height="1" fill="#000" />
<rect x="1617" y="379" width="2" height="1" fill="#000" />
<rect x="1617" y="412" width="2" height="1" fill="#000" />
<rect x="1617" y="445" width="2" height="1" fill="#000" />
<rect x="1617" y="478" width="2" height="1" fill="#000" />
<rect x="1617" y="511" width="2" height="1" fill="#000" />
<rect x="1617" y="544" width="2" height="1" fill="#000" />
<rect x="1617" y="577" width="2" height="1" fill="#000" />
</g>
<text x="1622.5" y="53.4" font-size="10" fill="#000" textLength="33" lengthAdjust="spacingAndGlyphs" stroke="#000" stroke-width="0.22" >148.010</text>
<text x="1622.5" y="86.4" font-size="10" fill="#000" textLength="33" lengthAdjust="spacingAndGlyphs" stroke="#000" stroke-width="0.22" >147.550</text>
<text x="1622.5" y="119.4" font-size="10" fill="#000" textLength="33" lengthAdjust="spacingAndGlyphs" stroke="#000" stroke-width="0.22" >147.090</text>
<text x="1622.5" y="152.4" font-size="10" fill="#000" textLength="33" lengthAdjust="spacingAndGlyphs" stroke="#000" stroke-width="0.22" >146.630</text>
<text x="1622.5" y="185.4" font-size="10" fill="#000" textLength="33" lengthAdjust="spacingAndGlyphs" stroke="#000" stroke-width="0.22" >146.180</text>
<text x="1622.5" y="218.4" font-size="10" fill="#000" textLength="33" lengthAdjust="spacingAndGlyphs" stroke="#000" stroke-width="0.22" >145.720</text>
<text x="1622.5" y="251.4" font-size="10" fill="#000" textLength="33" lengthAdjust="spacingAndGlyphs" stroke="#000" stroke-width="0.22" >145.260</text>
<text x="1622.5" y="284.4" font-size="10" fill="#000" textLength="33" lengthAdjust="spacingAndGlyphs" stroke="#000" stroke-width="0.22" >144.800</text>
<text x="1622.5" y="317.4" font-size="10" fill="#000" textLength="33" lengthAdjust="spacingAndGlyphs" stroke="#000" stroke-width="0.22" >144.340</text>
<text x="1622.5" y="350.4" font-size="10" fill="#000" textLength="33" lengthAdjust="spacingAndGlyphs" stroke="#000" stroke-width="0.22" >143.880</text>
<text x="1622.5" y="383.4" font-size="10" fill="#000" textLength="33" lengthAdjust="spacingAndGlyphs" stroke="#000" stroke-width="0.22" >143.420</text>
<text x="1622.5" y="416.4" font-size="10" fill="#000" textLength="33" lengthAdjust="spacingAndGlyphs" stroke="#000" stroke-width="0.22" >142.960</text>
<text x="1622.5" y="449.4" font-size="10" fill="#000" textLength="33" lengthAdjust="spacingAndGlyphs" stroke="#000" stroke-width="0.22" >142.500</text>
<text x="1622.5" y="482.4" font-size="10" fill="#000" textLength="33" lengthAdjust="spacingAndGlyphs" stroke="#000" stroke-width="0.22" >142.040</text>
<text x="1622.5" y="515.4" font-size="10" fill="#000" textLength="33" lengthAdjust="spacingAndGlyphs" stroke="#000" stroke-width="0.22" >141.580</text>
<text x="1622.5" y="548.4" font-size="10" fill="#000" textLength="33" lengthAdjust="spacingAndGlyphs" stroke="#000" stroke-width="0.22" >141.120</text>
<text x="1622.5" y="581.4" font-size="10" fill="#000" textLength="33" lengthAdjust="spacingAndGlyphs" stroke="#000" stroke-width="0.22" >140.660</text>
<rect x="1618" y="353" width="41" height="11" fill="#ff0000" shape-rendering="crispEdges"/>
<text x="1622.5" y="362.5" font-size="10" fill="#fff" textLength="33" lengthAdjust="spacingAndGlyphs" stroke="#fff" stroke-width="0.22" >143.701</text>
<rect x="1618" y="379" width="41" height="11" fill="#ff0000" shape-rendering="crispEdges"/>
<text x="1622.5" y="388.5" font-size="10" fill="#fff" textLength="33" lengthAdjust="spacingAndGlyphs" stroke="#fff" stroke-width="0.22" >143.340</text>
<rect x="1618" y="402" width="41" height="11" fill="#32cd32" shape-rendering="crispEdges"/>
<text x="1622.5" y="411.5" font-size="10" fill="#fff" textLength="33" lengthAdjust="spacingAndGlyphs" stroke="#fff" stroke-width="0.22" >143.020</text>
<rect x="1618" y="419" width="41" height="11" fill="#000" shape-rendering="crispEdges"/>
<text x="1622.5" y="428.5" font-size="10" fill="#fff" textLength="33" lengthAdjust="spacingAndGlyphs" stroke="#fff" stroke-width="0.22" >142.789</text>
<rect x="1618" y="446" width="41" height="11" fill="#0000ff" shape-rendering="crispEdges"/>
<text x="1622.5" y="455.5" font-size="10" fill="#fff" textLength="33" lengthAdjust="spacingAndGlyphs" stroke="#fff" stroke-width="0.22" >142.409</text>
<rect x="1618" y="478" width="41" height="11" fill="#0000ff" shape-rendering="crispEdges"/>
<text x="1622.5" y="487.5" font-size="10" fill="#fff" textLength="33" lengthAdjust="spacingAndGlyphs" stroke="#fff" stroke-width="0.22" >141.964</text>
<g shape-rendering="crispEdges" clip-path="url(#c2)">
<rect x="5" y="660" width="1" height="28" fill="#c0c0c0" />
<rect x="13" y="661" width="1" height="27" fill="#c0c0c0" />
<rect x="21" y="662" width="1" height="26" fill="#c0c0c0" />
<rect x="29" y="663" width="1" height="25" fill="#c0c0c0" />
<rect x="37" y="668" width="1" height="20" fill="#c0c0c0" />
<rect x="45" y="672" width="1" height="16" fill="#c0c0c0" />
<rect x="53" y="675" width="1" height="13" fill="#c0c0c0" />
<rect x="61" y="676" width="1" height="12" fill="#c0c0c0" />
<rect x="69" y="676" width="1" height="12" fill="#c0c0c0" />
<rect x="77" y="676" width="1" height="12" fill="#c0c0c0" />
<rect x="85" y="679" width="1" height="9" fill="#c0c0c0" />
<rect x="93" y="681" width="1" height="7" fill="#c0c0c0" />
<rect x="101" y="682" width="1" height="6" fill="#c0c0c0" />
<rect x="109" y="683" width="1" height="5" fill="#c0c0c0" />
<rect x="117" y="685" width="1" height="3" fill="#c0c0c0" />
<rect x="125" y="680" width="1" height="8" fill="#c0c0c0" />
<rect x="133" y="671" width="1" height="17" fill="#c0c0c0" />
<rect x="141" y="664" width="1" height="24" fill="#c0c0c0" />
<rect x="149" y="658" width="1" height="30" fill="#c0c0c0" />
<rect x="157" y="654" width="1" height="34" fill="#c0c0c0" />
<rect x="165" y="648" width="1" height="40" fill="#c0c0c0" />
<rect x="173" y="645" width="1" height="43" fill="#c0c0c0" />
<rect x="181" y="642" width="1" height="46" fill="#c0c0c0" />
<rect x="189" y="640" width="1" height="48" fill="#c0c0c0" />
<rect x="197" y="640" width="1" height="48" fill="#c0c0c0" />
<rect x="205" y="640" width="1" height="48" fill="#c0c0c0" />
<rect x="213" y="642" width="1" height="46" fill="#c0c0c0" />
<rect x="221" y="646" width="1" height="42" fill="#c0c0c0" />
<rect x="229" y="651" width="1" height="37" fill="#c0c0c0" />
<rect x="237" y="654" width="1" height="34" fill="#c0c0c0" />
<rect x="245" y="656" width="1" height="32" fill="#c0c0c0" />
<rect x="253" y="658" width="1" height="30" fill="#c0c0c0" />
<rect x="261" y="658" width="1" height="30" fill="#c0c0c0" />
<rect x="269" y="660" width="1" height="28" fill="#c0c0c0" />
<rect x="277" y="660" width="1" height="28" fill="#c0c0c0" />
<rect x="285" y="662" width="1" height="26" fill="#c0c0c0" />
<rect x="293" y="664" width="1" height="24" fill="#c0c0c0" />
<rect x="301" y="665" width="1" height="23" fill="#c0c0c0" />
<rect x="309" y="667" width="1" height="21" fill="#c0c0c0" />
<rect x="317" y="666" width="1" height="22" fill="#c0c0c0" />
<rect x="325" y="665" width="1" height="23" fill="#c0c0c0" />
<rect x="333" y="663" width="1" height="25" fill="#c0c0c0" />
<rect x="341" y="665" width="1" height="23" fill="#c0c0c0" />
<rect x="349" y="668" width="1" height="20" fill="#c0c0c0" />
<rect x="357" y="672" width="1" height="16" fill="#c0c0c0" />
<rect x="365" y="672" width="1" height="16" fill="#c0c0c0" />
<rect x="373" y="671" width="1" height="17" fill="#c0c0c0" />
<rect x="381" y="670" width="1" height="18" fill="#c0c0c0" />
<rect x="389" y="668" width="1" height="20" fill="#c0c0c0" />
<rect x="397" y="666" width="1" height="22" fill="#c0c0c0" />
<rect x="405" y="664" width="1" height="24" fill="#c0c0c0" />
<rect x="413" y="666" width="1" height="22" fill="#c0c0c0" />
<rect x="421" y="666" width="1" height="22" fill="#c0c0c0" />
<rect x="429" y="664" width="1" height="24" fill="#c0c0c0" />
<rect x="437" y="637" width="1" height="51" fill="#c0c0c0" />
<rect x="445" y="613" width="1" height="75" fill="#c0c0c0" />
<rect x="453" y="600" width="1" height="88" fill="#c0c0c0" />
<rect x="461" y="592" width="1" height="96" fill="#c0c0c0" />
<rect x="469" y="595" width="1" height="93" fill="#c0c0c0" />
<rect x="477" y="598" width="1" height="90" fill="#c0c0c0" />
<rect x="485" y="599" width="1" height="89" fill="#c0c0c0" />
<rect x="493" y="599" width="1" height="89" fill="#c0c0c0" />
<rect x="501" y="599" width="1" height="89" fill="#c0c0c0" />
<rect x="509" y="601" width="1" height="87" fill="#c0c0c0" />
<rect x="517" y="605" width="1" height="83" fill="#c0c0c0" />
<rect x="525" y="608" width="1" height="80" fill="#c0c0c0" />
<rect x="533" y="619" width="1" height="69" fill="#c0c0c0" />
<rect x="541" y="625" width="1" height="63" fill="#c0c0c0" />
<rect x="549" y="634" width="1" height="54" fill="#c0c0c0" />
<rect x="557" y="646" width="1" height="42" fill="#c0c0c0" />
<rect x="565" y="661" width="1" height="27" fill="#c0c0c0" />
<rect x="573" y="676" width="1" height="12" fill="#c0c0c0" />
<rect x="581" y="686" width="1" height="2" fill="#c0c0c0" />
<rect x="589" y="687" width="1" height="10" fill="#c0c0c0" />
<rect x="597" y="687" width="1" height="20" fill="#c0c0c0" />
<rect x="605" y="687" width="1" height="26" fill="#c0c0c0" />
<rect x="613" y="687" width="1" height="31" fill="#c0c0c0" />
<rect x="621" y="687" width="1" height="34" fill="#c0c0c0" />
<rect x="629" y="687" width="1" height="37" fill="#c0c0c0" />
<rect x="637" y="687" width="1" height="38" fill="#c0c0c0" />
<rect x="645" y="687" width="1" height="36" fill="#c0c0c0" />
<rect x="653" y="687" width="1" height="39" fill="#c0c0c0" />
<rect x="661" y="687" width="1" height="46" fill="#c0c0c0" />
<rect x="669" y="687" width="1" height="52" fill="#c0c0c0" />
<rect x="677" y="687" width="1" height="55" fill="#c0c0c0" />
<rect x="685" y="687" width="1" height="56" fill="#c0c0c0" />
<rect x="693" y="687" width="1" height="57" fill="#c0c0c0" />
<rect x="701" y="687" width="1" height="57" fill="#c0c0c0" />
<rect x="709" y="687" width="1" height="53" fill="#c0c0c0" />
<rect x="717" y="687" width="1" height="52" fill="#c0c0c0" />
<rect x="725" y="687" width="1" height="50" fill="#c0c0c0" />
<rect x="733" y="687" width="1" height="50" fill="#c0c0c0" />
<rect x="741" y="687" width="1" height="48" fill="#c0c0c0" />
<rect x="749" y="687" width="1" height="49" fill="#c0c0c0" />
<rect x="757" y="687" width="1" height="54" fill="#c0c0c0" />
<rect x="765" y="687" width="1" height="57" fill="#c0c0c0" />
<rect x="773" y="687" width="1" height="57" fill="#c0c0c0" />
<rect x="781" y="687" width="1" height="57" fill="#c0c0c0" />
<rect x="789" y="687" width="1" height="58" fill="#c0c0c0" />
<rect x="797" y="687" width="1" height="56" fill="#c0c0c0" />
<rect x="805" y="687" width="1" height="53" fill="#c0c0c0" />
<rect x="813" y="687" width="1" height="51" fill="#c0c0c0" />
<rect x="821" y="687" width="1" height="51" fill="#c0c0c0" />
<rect x="829" y="687" width="1" height="46" fill="#c0c0c0" />
<rect x="837" y="687" width="1" height="39" fill="#c0c0c0" />
<rect x="845" y="687" width="1" height="33" fill="#c0c0c0" />
<rect x="853" y="687" width="1" height="30" fill="#c0c0c0" />
<rect x="861" y="687" width="1" height="23" fill="#c0c0c0" />
<rect x="869" y="687" width="1" height="17" fill="#c0c0c0" />
<rect x="877" y="687" width="1" height="13" fill="#c0c0c0" />
<rect x="885" y="687" width="1" height="11" fill="#c0c0c0" />
<rect x="893" y="687" width="1" height="5" fill="#c0c0c0" />
<rect x="901" y="685" width="1" height="3" fill="#c0c0c0" />
<rect x="909" y="677" width="1" height="11" fill="#c0c0c0" />
<rect x="917" y="673" width="1" height="15" fill="#c0c0c0" />
<rect x="925" y="670" width="1" height="18" fill="#c0c0c0" />
<rect x="933" y="669" width="1" height="19" fill="#c0c0c0" />
<rect x="941" y="668" width="1" height="20" fill="#c0c0c0" />
<rect x="949" y="667" width="1" height="21" fill="#c0c0c0" />
<rect x="957" y="668" width="1" height="20" fill="#c0c0c0" />
<rect x="965" y="672" width="1" height="16" fill="#c0c0c0" />
<rect x="973" y="674" width="1" height="14" fill="#c0c0c0" />
<rect x="981" y="677" width="1" height="11" fill="#c0c0c0" />
<rect x="989" y="678" width="1" height="10" fill="#c0c0c0" />
<rect x="997" y="675" width="1" height="13" fill="#c0c0c0" />
<rect x="1005" y="669" width="1" height="19" fill="#c0c0c0" />
<rect x="1013" y="665" width="1" height="23" fill="#c0c0c0" />
<rect x="1021" y="661" width="1" height="27" fill="#c0c0c0" />
<rect x="1029" y="657" width="1" height="31" fill="#c0c0c0" />
<rect x="1037" y="659" width="1" height="29" fill="#c0c0c0" />
<rect x="1045" y="658" width="1" height="30" fill="#c0c0c0" />
<rect x="1053" y="660" width="1" height="28" fill="#c0c0c0" />
<rect x="1061" y="667" width="1" height="21" fill="#c0c0c0" />
<rect x="1069" y="675" width="1" height="13" fill="#c0c0c0" />
<rect x="1077" y="681" width="1" height="7" fill="#c0c0c0" />
<rect x="1085" y="687" width="1" height="1" fill="#c0c0c0" />
<rect x="1093" y="687" width="1" height="15" fill="#c0c0c0" />
<rect x="1101" y="687" width="1" height="26" fill="#c0c0c0" />
<rect x="1109" y="687" width="1" height="33" fill="#c0c0c0" />
<rect x="1117" y="687" width="1" height="39" fill="#c0c0c0" />
<rect x="1125" y="687" width="1" height="43" fill="#c0c0c0" />
<rect x="1133" y="687" width="1" height="44" fill="#c0c0c0" />
<rect x="1141" y="687" width="1" height="45" fill="#c0c0c0" />
<rect x="1149" y="687" width="1" height="39" fill="#c0c0c0" />
<rect x="1157" y="687" width="1" height="32" fill="#c0c0c0" />
<rect x="1165" y="687" width="1" height="24" fill="#c0c0c0" />
<rect x="1173" y="687" width="1" height="17" fill="#c0c0c0" />
<rect x="1181" y="687" width="1" height="10" fill="#c0c0c0" />
<rect x="1189" y="687" width="1" height="8" fill="#c0c0c0" />
<rect x="1197" y="687" width="1" height="7" fill="#c0c0c0" />
<rect x="1205" y="687" width="1" height="6" fill="#c0c0c0" />
<rect x="1213" y="687" width="1" height="4" fill="#c0c0c0" />
<rect x="1221" y="687" width="1" height="10" fill="#c0c0c0" />
<rect x="1229" y="687" width="1" height="9" fill="#c0c0c0" />
<rect x="1237" y="687" width="1" height="6" fill="#c0c0c0" />
<rect x="1245" y="687" width="1" height="4" fill="#c0c0c0" />
<rect x="1253" y="687" width="1" height="4" fill="#c0c0c0" />
<rect x="1261" y="686" width="1" height="2" fill="#c0c0c0" />
<rect x="1269" y="683" width="1" height="5" fill="#c0c0c0" />
<rect x="1277" y="679" width="1" height="9" fill="#c0c0c0" />
<rect x="1285" y="674" width="1" height="14" fill="#c0c0c0" />
<rect x="1293" y="676" width="1" height="12" fill="#c0c0c0" />
<rect x="1301" y="675" width="1" height="13" fill="#c0c0c0" />
<rect x="1309" y="675" width="1" height="13" fill="#c0c0c0" />
<rect x="1317" y="673" width="1" height="15" fill="#c0c0c0" />
<rect x="1325" y="672" width="1" height="16" fill="#c0c0c0" />
<rect x="1333" y="671" width="1" height="17" fill="#c0c0c0" />
<rect x="1341" y="670" width="1" height="18" fill="#c0c0c0" />
<rect x="1349" y="670" width="1" height="18" fill="#c0c0c0" />
<rect x="1357" y="672" width="1" height="16" fill="#c0c0c0" />
<rect x="1365" y="673" width="1" height="15" fill="#c0c0c0" />
<rect x="1373" y="675" width="1" height="13" fill="#c0c0c0" />
<rect x="1381" y="679" width="1" height="9" fill="#c0c0c0" />
<rect x="1389" y="683" width="1" height="5" fill="#c0c0c0" />
<rect x="1397" y="685" width="1" height="3" fill="#c0c0c0" />
<rect x="1405" y="684" width="1" height="4" fill="#c0c0c0" />
<rect x="1413" y="685" width="1" height="3" fill="#c0c0c0" />
</g>
<polyline points="-3.0,656.8 5.0,657.2 13.0,658.2 21.0,658.8 29.0,659.4 37.0,660.0 45.0,661.2 53.0,662.6 61.0,664.4 69.0,668.1 77.0,669.9 85.0,672.0 93.0,674.2 101.0,676.2 109.0,677.9 117.0,679.4 125.0,679.9 133.0,679.4 141.0,678.1 149.0,676.1 157.0,673.3 165.0,669.6 173.0,665.5 181.0,660.9 189.0,655.9 197.0,651.5 205.0,648.0 213.0,645.5 221.0,644.2 229.0,643.9 237.0,644.6 245.0,645.9 253.0,647.7 261.0,649.7 269.0,651.8 277.0,654.1 285.0,656.3 293.0,658.3 301.0,659.8 309.0,661.2 317.0,662.4 325.0,663.1 333.0,663.6 341.0,664.3 349.0,665.2 357.0,666.3 365.0,667.2 373.0,667.8 381.0,668.1 389.0,668.3 397.0,668.4 405.0,668.5 413.0,668.6 421.0,668.3 429.0,667.4 437.0,663.6 445.0,657.2 453.0,649.4 461.0,641.0 469.0,633.0 477.0,625.7 485.0,618.2 493.0,610.8 501.0,603.5 509.0,599.5 517.0,598.6 525.0,599.5 533.0,602.5 541.0,605.8 549.0,609.8 557.0,615.1 565.0,622.0 573.0,630.5 581.0,639.9 589.0,650.0 597.0,660.9 605.0,671.2 613.0,681.5 621.0,691.0 629.0,699.6 637.0,706.6 645.0,711.7 653.0,716.0 661.0,720.1 669.0,723.6 677.0,726.8 685.0,729.6 693.0,732.1 701.0,734.4 709.0,736.0 717.0,737.7 725.0,739.0 733.0,739.4 741.0,739.0 749.0,738.4 757.0,738.1 765.0,738.1 773.0,738.1 781.0,738.6 789.0,739.3 797.0,739.9 805.0,740.2 813.0,740.6 821.0,740.8 829.0,740.0 837.0,738.0 845.0,735.3 853.0,732.3 861.0,728.4 869.0,724.0 877.0,719.6 885.0,715.1 893.0,710.0 901.0,704.8 909.0,699.4 917.0,694.4 925.0,689.3 933.0,684.9 941.0,681.0 949.0,677.4 957.0,674.2 965.0,672.1 973.0,670.9 981.0,670.9 989.0,671.4 997.0,672.0 1005.0,672.0 1013.0,671.7 1021.0,671.0 1029.0,669.8 1037.0,668.4 1045.0,666.6 1053.0,664.7 1061.0,663.5 1069.0,663.5 1077.0,664.9 1085.0,667.3 1093.0,671.7 1101.0,677.8 1109.0,684.5 1117.0,691.9 1125.0,699.6 1133.0,706.6 1141.0,712.8 1149.0,717.7 1157.0,721.1 1165.0,722.1 1173.0,721.0 1181.0,718.5 1189.0,715.1 1197.0,711.1 1205.0,706.8 1213.0,702.2 1221.0,699.0 1229.0,696.4 1237.0,694.5 1245.0,693.1 1253.0,692.4 1261.0,691.5 1269.0,690.4 1277.0,689.0 1285.0,687.2 1293.0,685.0 1301.0,682.9 1309.0,681.0 1317.0,679.1 1325.0,677.2 1333.0,675.5 1341.0,674.0 1349.0,673.0 1357.0,672.8 1365.0,672.5 1373.0,672.4 1381.0,672.9 1389.0,673.9 1397.0,675.4 1405.0,676.8 1413.0,678.5" fill="none" stroke="#ff0000" stroke-width="1.05" shape-rendering="crispEdges" stroke-dasharray="3 3" clip-path="url(#c2)"/>
<text x="1" y="595" font-size="10" fill="#000" textLength="128" lengthAdjust="spacingAndGlyphs" stroke="#000" stroke-width="0.22" >MACD(12,26,9) 0.0356 0.1064</text>
<text x="1620.3" y="593" font-size="10" fill="#000" textLength="27.5" lengthAdjust="spacingAndGlyphs" stroke="#000" stroke-width="0.22" >1.1277</text>
<text x="1619.8" y="691" font-size="10" fill="#000" textLength="18.5" lengthAdjust="spacingAndGlyphs" stroke="#000" stroke-width="0.22" >0.00</text>
<text x="1619.8" y="749" font-size="10" fill="#000" textLength="26.5" lengthAdjust="spacingAndGlyphs" stroke="#000" stroke-width="0.22" >-0.703</text>
<g shape-rendering="crispEdges">
<rect x="1617" y="584" width="1" height="1" fill="#000" />
<rect x="1617" y="687" width="1" height="1" fill="#000" />
<rect x="1617" y="751" width="1" height="1" fill="#000" />
</g>
<line x1="0" y1="790.5" x2="1616" y2="790.5" stroke="#c0c0c0" stroke-width="1" stroke-dasharray="3 3" stroke-dashoffset="2" shape-rendering="crispEdges"/>
<line x1="0" y1="841.5" x2="1616" y2="841.5" stroke="#c0c0c0" stroke-width="1" stroke-dasharray="3 3" stroke-dashoffset="2" shape-rendering="crispEdges"/>
<line x1="0" y1="902.5" x2="1616" y2="902.5" stroke="#c0c0c0" stroke-width="1" stroke-dasharray="3 3" stroke-dashoffset="2" shape-rendering="crispEdges"/>
<polyline points="-3.0,819.0 5.5,825.8 13.5,818.3 21.5,822.0 29.5,825.8 37.5,848.5 45.5,845.8 53.5,844.5 61.5,836.5 69.5,830.3 77.5,831.5 85.5,847.3 93.5,846.3 101.5,839.5 109.5,843.5 117.5,849.0 125.5,820.3 133.5,806.5 141.5,805.3 149.5,806.5 157.5,804.0 165.5,799.5 173.5,800.5 181.5,800.5 189.5,799.5 197.5,802.3 205.5,803.3 213.5,807.0 221.5,826.5 229.5,834.3 237.5,827.8 245.5,824.5 253.5,825.5 261.5,817.5 269.5,823.3 277.5,823.5 285.5,826.5 293.5,829.3 301.5,825.5 309.5,831.3 317.5,819.8 325.5,816.0 333.5,806.5 341.5,838.3 349.5,836.3 357.5,844.3 365.5,834.5 373.5,827.3 381.5,825.5 389.5,825.5 397.5,819.5 405.5,817.5 413.5,833.3 421.5,828.3 429.5,822.3 437.5,783.5 445.5,782.5 453.5,796.0 461.5,802.0 469.5,820.3 477.5,820.3 485.5,817.0 493.5,813.5 501.5,813.5 509.5,816.5 517.5,820.3 525.5,818.5 533.5,836.0 541.5,832.5 549.5,839.5 557.5,849.3 565.5,859.3 573.5,862.3 581.5,860.6 589.5,864.6 597.5,866.3 605.5,862.6 613.5,864.3 621.5,861.6 629.5,862.6 637.5,861.3 645.5,853.8 653.5,864.1 661.5,873.3 669.5,875.6 677.5,870.6 685.5,870.3 693.5,871.3 701.5,869.3 709.5,857.3 717.5,863.3 725.5,864.3 733.5,865.3 741.5,863.3 749.5,870.3 757.5,880.3 765.5,875.3 773.5,873.3 781.5,872.3 789.5,876.3 797.5,867.6 805.5,864.3 813.5,865.6 821.5,871.3 829.5,853.5 837.5,843.3 845.5,841.3 853.5,848.3 861.5,835.3 869.5,833.3 877.5,837.3 885.5,840.5 893.5,828.3 901.5,820.3 909.5,815.3 917.5,823.3 925.5,823.3 933.5,825.5 941.5,825.5 949.5,824.5 957.5,835.3 965.5,842.5 973.5,841.5 981.5,844.5 989.5,841.3 997.5,822.3 1005.5,812.3 1013.5,814.3 1021.5,812.3 1029.5,810.5 1037.5,827.3 1045.5,823.3 1053.5,829.3 1061.5,851.3 1069.5,857.3 1077.5,852.5 1085.5,863.3 1093.5,875.3 1101.5,877.3 1109.5,873.6 1117.5,872.3 1125.5,873.6 1133.5,867.6 1141.5,868.6 1149.5,843.3 1157.5,836.5 1165.5,832.5 1173.5,831.3 1181.5,829.3 1189.5,843.3 1197.5,839.5 1205.5,839.5 1213.5,841.5 1221.5,859.6 1229.5,843.3 1237.5,837.3 1245.5,838.3 1253.5,844.3 1261.5,828.3 1269.5,832.3 1277.5,829.3 1285.5,823.3 1293.5,843.3 1301.5,835.3 1309.5,834.3 1317.5,832.5 1325.5,832.5 1333.5,832.5 1341.5,828.3 1349.5,834.3 1357.5,835.5 1365.5,839.3 1373.5,839.3 1381.5,849.3 1389.5,851.5 1397.5,844.5 1405.5,838.3 1413.5,841.3" fill="none" stroke="#1e90ff" stroke-width="1.0" shape-rendering="crispEdges" clip-path="url(#c3)"/>
<text x="1" y="767" font-size="10" fill="#000" textLength="68" lengthAdjust="spacingAndGlyphs" stroke="#000" stroke-width="0.22" >RSI(14) 50.4503</text>
<text x="1619.8" y="765" font-size="10" fill="#000" textLength="15" lengthAdjust="spacingAndGlyphs" stroke="#000" stroke-width="0.22" >100</text>
<text x="1619.8" y="794" font-size="10" fill="#000" textLength="10" lengthAdjust="spacingAndGlyphs" stroke="#000" stroke-width="0.22" >80</text>
<text x="1619.8" y="845" font-size="10" fill="#000" textLength="10" lengthAdjust="spacingAndGlyphs" stroke="#000" stroke-width="0.22" >50</text>
<text x="1619.8" y="906" font-size="10" fill="#000" textLength="10" lengthAdjust="spacingAndGlyphs" stroke="#000" stroke-width="0.22" >15</text>
<text x="1619.8" y="924.7" font-size="10" fill="#000" textLength="5" lengthAdjust="spacingAndGlyphs" stroke="#000" stroke-width="0.22" >0</text>
<g shape-rendering="crispEdges">
<rect x="1617" y="756" width="1" height="1" fill="#000" />
<rect x="1617" y="926" width="1" height="1" fill="#000" />
</g>
<g shape-rendering="crispEdges">
<rect x="61" y="929" width="1" height="3" fill="#000" />
<rect x="125" y="929" width="1" height="3" fill="#000" />
<rect x="189" y="929" width="1" height="3" fill="#000" />
<rect x="253" y="929" width="1" height="3" fill="#000" />
<rect x="317" y="929" width="1" height="3" fill="#000" />
<rect x="381" y="929" width="1" height="3" fill="#000" />
<rect x="445" y="929" width="1" height="3" fill="#000" />
<rect x="509" y="929" width="1" height="3" fill="#000" />
<rect x="573" y="929" width="1" height="3" fill="#000" />
<rect x="637" y="929" width="1" height="3" fill="#000" />
<rect x="701" y="929" width="1" height="3" fill="#000" />
<rect x="765" y="929" width="1" height="3" fill="#000" />
<rect x="829" y="929" width="1" height="3" fill="#000" />
<rect x="893" y="929" width="1" height="3" fill="#000" />
<rect x="957" y="929" width="1" height="3" fill="#000" />
<rect x="1021" y="929" width="1" height="3" fill="#000" />
<rect x="1085" y="929" width="1" height="3" fill="#000" />
<rect x="1149" y="929" width="1" height="3" fill="#000" />
<rect x="1213" y="929" width="1" height="3" fill="#000" />
<rect x="1277" y="929" width="1" height="3" fill="#000" />
<rect x="1341" y="929" width="1" height="3" fill="#000" />
<rect x="1405" y="929" width="1" height="3" fill="#000" />
</g>
<text x="-5.5" y="941.6" font-size="10" fill="#000" textLength="55.8" lengthAdjust="spacingAndGlyphs" stroke="#000" stroke-width="0.22" >29 Nov 2019</text>
<text x="60" y="941.6" font-size="10" fill="#000" textLength="50.3" lengthAdjust="spacingAndGlyphs" stroke="#000" stroke-width="0.22" >3 Dec 00:00</text>
<text x="124" y="941.6" font-size="10" fill="#000" textLength="50.3" lengthAdjust="spacingAndGlyphs" stroke="#000" stroke-width="0.22" >4 Dec 08:00</text>
<text x="188" y="941.6" font-size="10" fill="#000" textLength="50.3" lengthAdjust="spacingAndGlyphs" stroke="#000" stroke-width="0.22" >5 Dec 16:00</text>
<text x="252" y="941.6" font-size="10" fill="#000" textLength="50.3" lengthAdjust="spacingAndGlyphs" stroke="#000" stroke-width="0.22" >9 Dec 00:00</text>
<text x="316" y="941.6" font-size="10" fill="#000" textLength="55.3" lengthAdjust="spacingAndGlyphs" stroke="#000" stroke-width="0.22" >10 Dec 08:00</text>
<text x="380" y="941.6" font-size="10" fill="#000" textLength="55.3" lengthAdjust="spacingAndGlyphs" stroke="#000" stroke-width="0.22" >11 Dec 16:00</text>
<text x="444" y="941.6" font-size="10" fill="#000" textLength="55.3" lengthAdjust="spacingAndGlyphs" stroke="#000" stroke-width="0.22" >13 Dec 00:00</text>
<text x="508" y="941.6" font-size="10" fill="#000" textLength="55.3" lengthAdjust="spacingAndGlyphs" stroke="#000" stroke-width="0.22" >16 Dec 08:00</text>
<text x="572" y="941.6" font-size="10" fill="#000" textLength="55.3" lengthAdjust="spacingAndGlyphs" stroke="#000" stroke-width="0.22" >17 Dec 16:00</text>
<text x="636" y="941.6" font-size="10" fill="#000" textLength="55.3" lengthAdjust="spacingAndGlyphs" stroke="#000" stroke-width="0.22" >19 Dec 00:00</text>
<text x="700" y="941.6" font-size="10" fill="#000" textLength="55.3" lengthAdjust="spacingAndGlyphs" stroke="#000" stroke-width="0.22" >20 Dec 08:00</text>
<text x="764" y="941.6" font-size="10" fill="#000" textLength="55.3" lengthAdjust="spacingAndGlyphs" stroke="#000" stroke-width="0.22" >23 Dec 16:00</text>
<text x="828" y="941.6" font-size="10" fill="#000" textLength="55.3" lengthAdjust="spacingAndGlyphs" stroke="#000" stroke-width="0.22" >25 Dec 23:00</text>
<text x="892" y="941.6" font-size="10" fill="#000" textLength="55.3" lengthAdjust="spacingAndGlyphs" stroke="#000" stroke-width="0.22" >27 Dec 04:00</text>
<text x="956" y="941.6" font-size="10" fill="#000" textLength="55.3" lengthAdjust="spacingAndGlyphs" stroke="#000" stroke-width="0.22" >30 Dec 12:00</text>
<text x="1020" y="941.6" font-size="10" fill="#000" textLength="55.3" lengthAdjust="spacingAndGlyphs" stroke="#000" stroke-width="0.22" >31 Dec 20:00</text>
<text x="1084" y="941.6" font-size="10" fill="#000" textLength="48.8" lengthAdjust="spacingAndGlyphs" stroke="#000" stroke-width="0.22" >3 Jan 00:00</text>
<text x="1148" y="941.6" font-size="10" fill="#000" textLength="48.8" lengthAdjust="spacingAndGlyphs" stroke="#000" stroke-width="0.22" >6 Jan 08:00</text>
<text x="1212" y="941.6" font-size="10" fill="#000" textLength="48.8" lengthAdjust="spacingAndGlyphs" stroke="#000" stroke-width="0.22" >7 Jan 16:00</text>
<text x="1276" y="941.6" font-size="10" fill="#000" textLength="48.8" lengthAdjust="spacingAndGlyphs" stroke="#000" stroke-width="0.22" >9 Jan 00:00</text>
<text x="1340" y="941.6" font-size="10" fill="#000" textLength="53.8" lengthAdjust="spacingAndGlyphs" stroke="#000" stroke-width="0.22" >10 Jan 08:00</text>
<text x="1404" y="941.6" font-size="10" fill="#000" textLength="53.8" lengthAdjust="spacingAndGlyphs" stroke="#000" stroke-width="0.22" >13 Jan 16:00</text>
<rect x="1662" y="25" width="1" height="924" fill="#e3e3e3" />
<rect x="0" y="0" width="1663" height="23" fill="#f0f0f0" />
<rect x="0" y="22" width="1663" height="1" fill="#f6f6f6" />
<rect x="0" y="23" width="1663" height="1" fill="#a6a6a6" />
<rect x="0" y="24" width="1663" height="1" fill="#696969" />
<rect x="0" y="25" width="1663" height="2" fill="#ffffff" />
<rect x="0" y="13" width="3" height="4" fill="#1fc01f" />
<rect x="0" y="16" width="3" height="1" fill="#0a8a0a" />
<text x='5.5' y='14.2' font-size='12' fill='#000' stroke='#000' stroke-width='0.25' font-family='"Liberation Sans", "Noto Sans CJK SC", sans-serif' textLength='37.5' lengthAdjust='spacingAndGlyphs'>新订单</text>
<defs><linearGradient id="gold" x1="0" y1="0" x2="1" y2="1"><stop offset="0" stop-color="#ffe766"/><stop offset="0.5" stop-color="#e8b820"/><stop offset="1" stop-color="#b07a08"/></linearGradient><linearGradient id="blu" x1="0" y1="0" x2="0" y2="1"><stop offset="0" stop-color="#6a6aff"/><stop offset="1" stop-color="#2020d8"/></linearGradient><linearGradient id="blu2" x1="0" y1="0" x2="0" y2="1"><stop offset="0" stop-color="#3a3ae6"/><stop offset="1" stop-color="#0000a8"/></linearGradient><linearGradient id="btn" x1="0" y1="0" x2="0" y2="1"><stop offset="0" stop-color="#f4f4f4"/><stop offset="1" stop-color="#cfcfcf"/></linearGradient><radialGradient id="lens" cx="0.4" cy="0.35" r="0.7"><stop offset="0" stop-color="#ffffff"/><stop offset="1" stop-color="#9cc4ee"/></radialGradient><radialGradient id="clk" cx="0.5" cy="0.5" r="0.5"><stop offset="0.55" stop-color="#ffffff"/><stop offset="0.6" stop-color="#2a6fd6"/><stop offset="1" stop-color="#1b4fae"/></radialGradient></defs>
<path d="M54 12.6 L57.9 6.3 L60.2 4 L69.8 11.6 L69.2 13.9 L61.9 18.9 Z" fill="#b8821c"/>
<path d="M54.4 11.6 L57.9 6.3 L60.2 4 L69.8 11.6 L62 16.9 Z" fill="url(#gold)"/>
<path d="M54.4 12.4 L62 17.6 L69.5 12.6" fill="none" stroke="#f7e6a0" stroke-width="0.7"/>
<path d="M58.2 6.6 Q57 9 55 11.4" fill="none" stroke="#fff4b8" stroke-width="0.8"/>
<path d="M84 4.5 L91 3.2 L96 4.5 L89 6 Z" fill="#a8e0ff"/>
<path d="M84 4.5 L89 6 L89 14 L84 12.5 Z" fill="#62beff"/>
<path d="M89 6 L96 4.5 L96 12.8 L89 14 Z" fill="#1e8cf5"/>
<path d="M90.5 8.3 L94.6 7.5" stroke="#e6f6ff" stroke-width="1.2"/>
<path d="M83.5 18.5 a3 3 0 0 1 0.3 -5.6 a3.4 3.4 0 0 1 6 -1.3 a3 3 0 0 1 5 1.5 a2.8 2.8 0 0 1 0.7 5.4 Z" fill="#f2f6ff" stroke="#6f8fd0" stroke-width="0.9"/>
<g fill="none" stroke-linecap="round"><circle cx="118" cy="11.5" r="7.3" stroke="#b8cdf0" stroke-width="1.3"/><circle cx="118" cy="11.5" r="4.6" stroke="#5f8fe0" stroke-width="1.4"/></g>
<path d="M118 11.5 L118 19.5 A8 8 0 0 0 125.5 13 Z" fill="#2fae3c"/>
<circle cx="118" cy="11" r="1.8" fill="#2a62d0"/>
<rect x="117.3" y="11" width="1.5" height="8" fill="#2a8f3a" />
<path d="M139.5 9.5 L152 9.5 L149.5 15.5 L146 18.5 L142 16 Z" fill="#ffd94a" stroke="#d8a010" stroke-width="0.7"/>
<ellipse cx="145" cy="8.6" rx="7.8" ry="2.6" fill="#4a9be8" stroke="#2a70c8" stroke-width="0.7"/>
<path d="M141 7.5 a4.2 4 0 0 1 8.4 0 Z" fill="#6db4f4" stroke="#2a70c8" stroke-width="0.7"/>
<circle cx="150" cy="15" r="4" fill="#e8281c" stroke="#b01008" stroke-width="0.6"/>
<rect x="148.5" y="13.5" width="3" height="3" fill="#fff" />
<text x='158' y='14.2' font-size='12' fill='#000' stroke='#000' stroke-width='0.25' font-family='"Liberation Sans", "Noto Sans CJK SC", sans-serif' textLength='48' lengthAdjust='spacingAndGlyphs'>自动交易</text>
<rect x="213" y="0" width="1" height="22" fill="#9a9a9a" shape-rendering="crispEdges"/>
<rect x="214" y="0" width="1" height="22" fill="#fbfbfb" shape-rendering="crispEdges"/>
<rect x="217" y="1" width="3" height="1" fill="#b0b0b0" shape-rendering="crispEdges"/>
<rect x="217" y="3" width="3" height="1" fill="#b0b0b0" shape-rendering="crispEdges"/>
<rect x="217" y="5" width="3" height="1" fill="#b0b0b0" shape-rendering="crispEdges"/>
<rect x="217" y="7" width="3" height="1" fill="#b0b0b0" shape-rendering="crispEdges"/>
<rect x="217" y="9" width="3" height="1" fill="#b0b0b0" shape-rendering="crispEdges"/>
<rect x="217" y="11" width="3" height="1" fill="#b0b0b0" shape-rendering="crispEdges"/>
<rect x="217" y="13" width="3" height="1" fill="#b0b0b0" shape-rendering="crispEdges"/>
<rect x="217" y="15" width="3" height="1" fill="#b0b0b0" shape-rendering="crispEdges"/>
<rect x="217" y="17" width="3" height="1" fill="#b0b0b0" shape-rendering="crispEdges"/>
<rect x="217" y="19" width="3" height="1" fill="#b0b0b0" shape-rendering="crispEdges"/>
<g fill="#555" shape-rendering="crispEdges"><rect x="231" y="6" width="1" height="13"/><rect x="229" y="16" width="13" height="1"/></g>
<path d="M229.8 7.6 L231.5 4.8 L233.2 7.6 Z M241 14.8 L243.4 16.5 L241 18.2 Z" fill="#555"/>
<g fill="#0f8f0f" shape-rendering="crispEdges"><rect x="237" y="6" width="1.3" height="9"/><rect x="238" y="7" width="2" height="1"/><rect x="235" y="13" width="2" height="1"/></g>
<rect x="251" y="0" width="25" height="23" fill="#f8f8f8" />
<rect x="251" y="0" width="1" height="23" fill="#a0a0a0" shape-rendering="crispEdges"/>
<g fill="#555" shape-rendering="crispEdges"><rect x="259" y="6" width="1" height="13"/><rect x="257" y="16" width="13" height="1"/></g>
<path d="M257.8 7.6 L259.5 4.8 L261.2 7.6 Z M269 14.8 L271.4 16.5 L269 18.2 Z" fill="#555"/>
<path d="M265.5 3 V14.8" stroke="#0a8a0a" stroke-width="1.2"/>
<rect x="263.5" y="5.5" width="4" height="7" fill="#50e070" stroke="#0a9a0a" stroke-width="1"/>
<g fill="#555" shape-rendering="crispEdges"><rect x="287" y="6" width="1" height="13"/><rect x="285" y="16" width="13" height="1"/></g>
<path d="M285.8 7.6 L287.5 4.8 L289.2 7.6 Z M297 14.8 L299.4 16.5 L297 18.2 Z" fill="#555"/>
<path d="M286 13.8 Q290.5 7 292.5 8 T298 12.3" stroke="#1a9a2a" stroke-width="1.1" fill="none"/>
<rect x="308" y="0" width="1" height="22" fill="#9a9a9a" shape-rendering="crispEdges"/>
<rect x="309" y="0" width="1" height="22" fill="#fbfbfb" shape-rendering="crispEdges"/>
<path d="M327.0 13.0 L331.5 17.5" stroke="#c89a20" stroke-width="2.6" stroke-linecap="round"/>
<path d="M327.0 13.0 L331.5 17.5" stroke="#f0d060" stroke-width="1" stroke-linecap="round"/>
<circle cx="323.5" cy="9.5" r="5" fill="url(#lens)" stroke="#3a78d0" stroke-width="1.5"/>
<path d="M320.7 9.5 H326.3" stroke="#2a62c0" stroke-width="1.6"/>
<path d="M323.5 6.7 V12.3" stroke="#2a62c0" stroke-width="1.6"/>
<path d="M355.0 13.0 L359.5 17.5" stroke="#c89a20" stroke-width="2.6" stroke-linecap="round"/>
<path d="M355.0 13.0 L359.5 17.5" stroke="#f0d060" stroke-width="1" stroke-linecap="round"/>
<circle cx="351.5" cy="9.5" r="5" fill="url(#lens)" stroke="#3a78d0" stroke-width="1.5"/>
<path d="M348.7 9.5 H354.3" stroke="#2a62c0" stroke-width="1.6"/>
<rect x="373" y="3" width="8" height="8" fill="#3aa83a" />
<rect x="373" y="3" width="8" height="2" fill="#2a8a2a" />
<rect x="374.5" y="6.5" width="5" height="2.5" fill="#f2f6ff" />
<rect x="381" y="3" width="8" height="8" fill="#3a6ee0" />
<rect x="381" y="3" width="8" height="2" fill="#2050c0" />
<rect x="382.5" y="6.5" width="5" height="2.5" fill="#f2f6ff" />
<rect x="373" y="11" width="8" height="8" fill="#3a6ee0" />
<rect x="373" y="11" width="8" height="2" fill="#2050c0" />
<rect x="374.5" y="14.5" width="5" height="2.5" fill="#f2f6ff" />
<rect x="381" y="11" width="8" height="8" fill="#3aa83a" />
<rect x="381" y="11" width="8" height="2" fill="#2a8a2a" />
<rect x="382.5" y="14.5" width="5" height="2.5" fill="#f2f6ff" />
<rect x="398" y="0" width="1" height="22" fill="#9a9a9a" shape-rendering="crispEdges"/>
<rect x="399" y="0" width="1" height="22" fill="#fbfbfb" shape-rendering="crispEdges"/>
<rect x="402" y="0" width="1" height="23" fill="#a0a0a0" shape-rendering="crispEdges"/>
<rect x="403" y="0" width="28" height="23" fill="#f6f6f6" />
<g fill="#555" shape-rendering="crispEdges"><rect x="411" y="6" width="1" height="13"/><rect x="409" y="16" width="13" height="1"/></g>
<path d="M409.8 7.6 L411.5 4.8 L413.2 7.6 Z M421 14.8 L423.4 16.5 L421 18.2 Z" fill="#555"/>
<path d="M417.5 7 L422 10 L417.5 13 Z" fill="#3cc83c" stroke="#1a9a1a" stroke-width="1"/>
<rect x="431" y="0" width="1" height="22" fill="#9a9a9a" shape-rendering="crispEdges"/>
<rect x="432" y="0" width="1" height="22" fill="#fbfbfb" shape-rendering="crispEdges"/>
<rect x="432" y="0" width="28" height="23" fill="#f6f6f6" />
<g fill="#555" shape-rendering="crispEdges"><rect x="439" y="6" width="1" height="13"/><rect x="437" y="16" width="13" height="1"/></g>
<path d="M437.8 7.6 L439.5 4.8 L441.2 7.6 Z M449 14.8 L451.4 16.5 L449 18.2 Z" fill="#555"/>
<path d="M445.5 5 V16" stroke="#2a5fc0" stroke-width="1.3"/>
<path d="M451 10.5 H447 M449 8.5 L447 10.5 L449 12.5" stroke="#e03010" stroke-width="1.1" fill="none"/>
<rect x="460" y="0" width="1" height="22" fill="#9a9a9a" shape-rendering="crispEdges"/>
<rect x="461" y="0" width="1" height="22" fill="#fbfbfb" shape-rendering="crispEdges"/>
<path d="M471.500 4.5 H478 L481.500 8 V17.500 H471.500 Z" fill="#fafafa" stroke="#707070" stroke-width="1"/>
<path d="M474.5 7 v6 M474.5 9 h2.500" stroke="#606060" stroke-width="0.9" fill="none"/>
<path d="M476 15 H486.500 M481.250 9.800 V20.300" stroke="#109a10" stroke-width="3.6"/>
<path d="M476.500 15 H486 M481.250 10.300 V19.800" stroke="#38d038" stroke-width="2"/>
<path d="M491 10 h6 l-3 3 z" fill="#000"/>
<circle cx="516" cy="11" r="7.8" fill="#2a72dc" stroke="#1a52b4" stroke-width="0.8"/>
<circle cx="516" cy="11" r="5.3" fill="#f4f9ff"/>
<path d="M516 7.5 V11.3 H519" stroke="#404040" stroke-width="1.1" fill="none"/>
<path d="M530 10 h6 l-3 3 z" fill="#000"/>
<rect x="547.5" y="4.5" width="15" height="13" fill="#ffffff" stroke="#3a6ad0" stroke-width="1"/>
<rect x="547" y="4" width="16" height="2.5" fill="#4a8ae0" />
<rect x="548" y="11.5" width="14" height="0.8" fill="#6a8ad0" />
<path d="M549.5 11.5 L552.500 10.500 L555 11 L558 9.500 L560.500 9.500" stroke="#c04010" stroke-width="1" fill="none"/>
<path d="M549.5 15.500 L552.500 14 L555 15 L558 13.500 L560.500 14" stroke="#20a020" stroke-width="1" fill="none"/>
<path d="M569 10 h6 l-3 3 z" fill="#000"/>
<rect x="581" y="0" width="1" height="22" fill="#9a9a9a" shape-rendering="crispEdges"/>
<rect x="582" y="0" width="1" height="22" fill="#fbfbfb" shape-rendering="crispEdges"/>
<rect x="585" y="1" width="3" height="1" fill="#b0b0b0" shape-rendering="crispEdges"/>
<rect x="585" y="3" width="3" height="1" fill="#b0b0b0" shape-rendering="crispEdges"/>
<rect x="585" y="5" width="3" height="1" fill="#b0b0b0" shape-rendering="crispEdges"/>
<rect x="585" y="7" width="3" height="1" fill="#b0b0b0" shape-rendering="crispEdges"/>
<rect x="585" y="9" width="3" height="1" fill="#b0b0b0" shape-rendering="crispEdges"/>
<rect x="585" y="11" width="3" height="1" fill="#b0b0b0" shape-rendering="crispEdges"/>
<rect x="585" y="13" width="3" height="1" fill="#b0b0b0" shape-rendering="crispEdges"/>
<rect x="585" y="15" width="3" height="1" fill="#b0b0b0" shape-rendering="crispEdges"/>
<rect x="585" y="17" width="3" height="1" fill="#b0b0b0" shape-rendering="crispEdges"/>
<rect x="585" y="19" width="3" height="1" fill="#b0b0b0" shape-rendering="crispEdges"/>
<rect x="591" y="1" width="1" height="21" fill="#a0a0a0" shape-rendering="crispEdges"/>
<rect x="592" y="0" width="25" height="23" fill="#f8f8f8" />
<path d="M599 4 L599 16.600 L602 13.900 L604.200 18.400 L606.200 17.500 L604.100 13.200 L607.800 12.800 Z" fill="#4a4a4a"/>
<path d="M631.500 4 V10 M631.500 13 V19 M624 11.500 H630 M633 11.500 H639" stroke="#484848" stroke-width="1.200"/>
<rect x="631" y="11" width="1" height="1" fill="#707070" />
<rect x="648" y="0" width="1" height="22" fill="#9a9a9a" shape-rendering="crispEdges"/>
<rect x="649" y="0" width="1" height="22" fill="#fbfbfb" shape-rendering="crispEdges"/>
<path d="M665.500 5 V18" stroke="#4a4a4a" stroke-width="1.200"/>
<path d="M688 11.500 H700" stroke="#4a4a4a" stroke-width="1.200"/>
<path d="M716 18 L728 6" stroke="#505050" stroke-width="1.300"/>
<g stroke="#484848" stroke-width="1" fill="none"><path d="M741.500 13.500 L753.500 4 M743.500 17.500 L756 8"/><path d="M744.500 10.500 l0.500 7 M747.500 8.500 l0.500 7 M750.500 6 l0.500 7 M753.500 3.500 l0.500 7"/></g>
<text x='752.500' y='20' font-size='8' font-weight='bold' fill='#303030'>E</text>
<path d="M771 4.5 H784" stroke="#404040" stroke-width="1" stroke-dasharray="1 1"/>
<path d="M771 7.5 H784" stroke="#404040" stroke-width="1" stroke-dasharray="1 1"/>
<path d="M771 11.5 H784" stroke="#404040" stroke-width="1" stroke-dasharray="1 1"/>
<path d="M771 15.5 H784" stroke="#404040" stroke-width="1" stroke-dasharray="1 1"/>
<text x='780.500' y='20' font-size='8' font-weight='bold' fill='#303030'>F</text>
<text x='801' y='15.800' font-size='12.500' fill='#484848' stroke='#484848' stroke-width='0.300' textLength='8.600' lengthAdjust='spacingAndGlyphs'>A</text>
<rect x="828" y="5" width="1" height="1" fill="#555" />
<rect x="828" y="17" width="1" height="1" fill="#555" />
<rect x="828" y="5" width="1" height="1" fill="#555" />
<rect x="840" y="5" width="1" height="1" fill="#555" />
<rect x="830" y="5" width="1" height="1" fill="#555" />
<rect x="830" y="17" width="1" height="1" fill="#555" />
<rect x="828" y="7" width="1" height="1" fill="#555" />
<rect x="840" y="7" width="1" height="1" fill="#555" />
<rect x="832" y="5" width="1" height="1" fill="#555" />
<rect x="832" y="17" width="1" height="1" fill="#555" />
<rect x="828" y="9" width="1" height="1" fill="#555" />
<rect x="840" y="9" width="1" height="1" fill="#555" />
<rect x="834" y="5" width="1" height="1" fill="#555" />
<rect x="834" y="17" width="1" height="1" fill="#555" />
<rect x="828" y="11" width="1" height="1" fill="#555" />
<rect x="840" y="11" width="1" height="1" fill="#555" />
<rect x="836" y="5" width="1" height="1" fill="#555" />
<rect x="836" y="17" width="1" height="1" fill="#555" />
<rect x="828" y="13" width="1" height="1" fill="#555" />
<rect x="840" y="13" width="1" height="1" fill="#555" />
<rect x="838" y="5" width="1" height="1" fill="#555" />
<rect x="838" y="17" width="1" height="1" fill="#555" />
<rect x="828" y="15" width="1" height="1" fill="#555" />
<rect x="840" y="15" width="1" height="1" fill="#555" />
<rect x="840" y="5" width="1" height="1" fill="#555" />
<rect x="840" y="17" width="1" height="1" fill="#555" />
<rect x="828" y="17" width="1" height="1" fill="#555" />
<rect x="840" y="17" width="1" height="1" fill="#555" />
<text x='829.800' y='15.800' font-size='11.500' font-weight='bold' fill='#4a4a4a'>T</text>
<path d="M855.500 8.300 l3 -3 l3 3 l-3 1.700 z M862 15 l3 -1.700 l3 1.700 l-3 3.200 z" fill="#404040"/>
<path d="M857.500 12.500 l2 2.300 l4.500 -5.300" stroke="#404040" stroke-width="1.300" fill="none"/>
<path d="M875 10 h6 l-3 3 z" fill="#000"/>
<rect x="887" y="0" width="1" height="22" fill="#9a9a9a" shape-rendering="crispEdges"/>
<rect x="888" y="0" width="1" height="22" fill="#fbfbfb" shape-rendering="crispEdges"/>
<rect x="891" y="1" width="3" height="1" fill="#b0b0b0" shape-rendering="crispEdges"/>
<rect x="891" y="3" width="3" height="1" fill="#b0b0b0" shape-rendering="crispEdges"/>
<rect x="891" y="5" width="3" height="1" fill="#b0b0b0" shape-rendering="crispEdges"/>
<rect x="891" y="7" width="3" height="1" fill="#b0b0b0" shape-rendering="crispEdges"/>
<rect x="891" y="9" width="3" height="1" fill="#b0b0b0" shape-rendering="crispEdges"/>
<rect x="891" y="11" width="3" height="1" fill="#b0b0b0" shape-rendering="crispEdges"/>
<rect x="891" y="13" width="3" height="1" fill="#b0b0b0" shape-rendering="crispEdges"/>
<rect x="891" y="15" width="3" height="1" fill="#b0b0b0" shape-rendering="crispEdges"/>
<rect x="891" y="17" width="3" height="1" fill="#b0b0b0" shape-rendering="crispEdges"/>
<rect x="891" y="19" width="3" height="1" fill="#b0b0b0" shape-rendering="crispEdges"/>
<rect x="1037" y="1" width="1" height="21" fill="#a0a0a0" shape-rendering="crispEdges"/>
<rect x="1038" y="0" width="25" height="23" fill="#f8f8f8" />
<text x='902' y='15.4' font-size='10' fill='#3a3a3a' stroke='#3a3a3a' stroke-width='0.2' textLength='13' lengthAdjust='spacingAndGlyphs'>M1</text>
<text x='930' y='15.4' font-size='10' fill='#3a3a3a' stroke='#3a3a3a' stroke-width='0.2' textLength='13' lengthAdjust='spacingAndGlyphs'>M5</text>
<text x='956' y='15.4' font-size='10' fill='#3a3a3a' stroke='#3a3a3a' stroke-width='0.2' textLength='18.5' lengthAdjust='spacingAndGlyphs'>M15</text>
<text x='984' y='15.4' font-size='10' fill='#3a3a3a' stroke='#3a3a3a' stroke-width='0.2' textLength='19' lengthAdjust='spacingAndGlyphs'>M30</text>
<text x='1015' y='15.4' font-size='10' fill='#3a3a3a' stroke='#3a3a3a' stroke-width='0.2' textLength='12.5' lengthAdjust='spacingAndGlyphs'>H1</text>
<text x='1042' y='15.4' font-size='10' fill='#3a3a3a' stroke='#3a3a3a' stroke-width='0.2' textLength='13' lengthAdjust='spacingAndGlyphs'>H4</text>
<text x='1071' y='15.4' font-size='10' fill='#3a3a3a' stroke='#3a3a3a' stroke-width='0.2' textLength='12.5' lengthAdjust='spacingAndGlyphs'>D1</text>
<text x='1099' y='15.4' font-size='10' fill='#3a3a3a' stroke='#3a3a3a' stroke-width='0.2' textLength='14.5' lengthAdjust='spacingAndGlyphs'>W1</text>
<text x='1125' y='15.4' font-size='10' fill='#3a3a3a' stroke='#3a3a3a' stroke-width='0.2' textLength='15.5' lengthAdjust='spacingAndGlyphs'>MN</text>
<rect x="1148" y="0" width="1" height="22" fill="#9a9a9a" shape-rendering="crispEdges"/>
<rect x="1149" y="0" width="1" height="22" fill="#fbfbfb" shape-rendering="crispEdges"/>
<path d="M1612 15.500 L1616.500 11" stroke="#2a5fd0" stroke-width="2.400" stroke-linecap="round"/>
<circle cx="1618.800" cy="8.200" r="3.600" fill="#f4f8ff" stroke="#2a5fd0" stroke-width="1.500"/>
<path d="M1647 4 h7 a3.500 3.500 0 0 1 0 7.500 h-1 l1 3 l-4 -3 h-3 a3.500 3.500 0 0 1 0 -7.500 z" fill="#f2f2f2" stroke="#a0a0a0" stroke-width="0.900"/>
<path d="M1640.500 8.500 h5 a3 3 0 0 1 0 6.500 h-2.500 l-2.500 2.800 l0.300 -2.800 h-0.300 a3 3 0 0 1 0 -6.500 z" fill="#fafafa" stroke="#a0a0a0" stroke-width="0.900"/>
<path d="M1399.5 28 H1409.5 L1404.5 33 Z" fill="#c0c0c0"/>
<rect x="0" y="47" width="51.5" height="24.5" fill="url(#blu)" />
<rect x="167" y="47" width="52" height="24.5" fill="url(#blu)" />
<rect x="0" y="71" width="109" height="40" fill="url(#blu2)" />
<rect x="111" y="71" width="108" height="40" fill="url(#blu2)" />
<rect x="4" y="71" width="44" height="1" fill="#9a9aff" />
<rect x="171" y="71" width="44" height="1" fill="#9a9aff" />
<rect x="52" y="47" width="115" height="24" fill="#e9e9e9" />
<rect x="54.500" y="48.500" width="110" height="21" fill="#fff" stroke="#b4b4b4" stroke-width="1"/>
<rect x="55" y="49" width="20" height="20" fill="url(#btn)" />
<rect x="75" y="49" width="1" height="20" fill="#b4b4b4" />
<rect x="144" y="49" width="20" height="20" fill="url(#btn)" />
<rect x="143" y="49" width="1" height="20" fill="#b4b4b4" />
<path d="M62 56.500 h5 l-2.500 3 z" fill="#4a5aa8"/>
<path d="M151 59.500 h5 l-2.500 -3 z" fill="#4a5aa8"/>
<text x='140.300' y='62.500' font-size='12.500' fill='#000' text-anchor='end' textLength='24.500' lengthAdjust='spacingAndGlyphs'>1.00</text>
<text x='11.500' y='63' font-size='12.800' fill='#fff' textLength='27.500' lengthAdjust='spacingAndGlyphs'>SELL</text>
<text x='179.500' y='63' font-size='12.800' fill='#fff' textLength='25.500' lengthAdjust='spacingAndGlyphs'>BUY</text>
<text x='23.200' y='102.200' font-size='11.800' font-weight='bold' fill='#fff' textLength='21.600' lengthAdjust='spacingAndGlyphs'>142</text>
<text x='46.300' y='102.200' font-size='34' fill='#fff' textLength='37.300' lengthAdjust='spacingAndGlyphs'>78</text>
<text x='86.600' y='86.200' font-size='11.500' font-weight='bold' fill='#fff' textLength='7.800' lengthAdjust='spacingAndGlyphs'>9</text>
<text x='133.200' y='102.200' font-size='11.800' font-weight='bold' fill='#fff' textLength='21.600' lengthAdjust='spacingAndGlyphs'>142</text>
<text x='158.600' y='102.200' font-size='34' fill='#fff' textLength='35.600' lengthAdjust='spacingAndGlyphs'>84</text>
<text x='198.200' y='86.200' font-size='11.500' font-weight='bold' fill='#fff' textLength='7' lengthAdjust='spacingAndGlyphs'>5</text>
</svg>
</body></html>
